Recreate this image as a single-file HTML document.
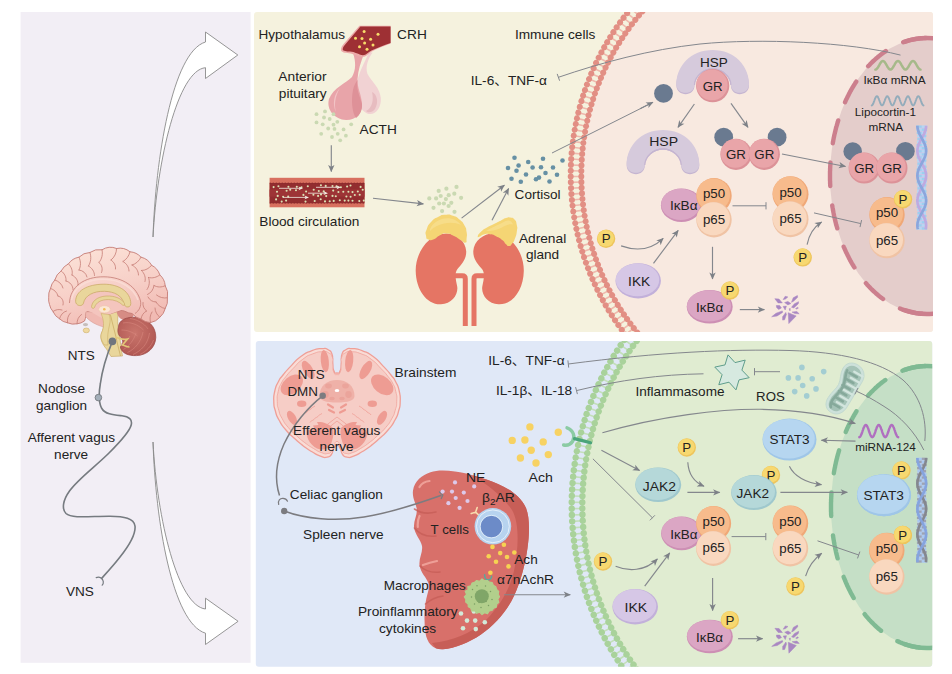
<!DOCTYPE html>
<html lang="en"><head><meta charset="utf-8"><title>HPA axis and cholinergic anti-inflammatory pathway</title>
<style>
html,body{margin:0;padding:0;background:#fff;}
svg{display:block;}
text{font-family:"Liberation Sans","Noto Sans CJK SC",sans-serif;}
</style></head><body>
<svg width="952" height="674" viewBox="0 0 952 674">
<defs>
<marker id="ah" viewBox="0 0 10 10" refX="9.2" refY="5" markerWidth="7.8" markerHeight="7.2" orient="auto" markerUnits="userSpaceOnUse"><path d="M0,0.6 L10,5 L0,9.4 L2.6,5 Z" fill="#7d8187"/></marker>
<clipPath id="cpTop"><rect x="254" y="12" width="679" height="320" rx="3"/></clipPath>
<clipPath id="cpBot"><rect x="255.8" y="341" width="676.4" height="325.8" rx="3"/></clipPath>
<clipPath id="cpLeft"><rect x="20.6" y="12" width="230" height="650.8"/></clipPath>
</defs>
<rect x="20.6" y="12" width="230" height="650.8" fill="#f2eef5"/>
<rect x="254" y="12" width="679" height="320" rx="3" fill="#f5f2de"/>
<rect x="255.8" y="341" width="676.4" height="325.8" rx="3" fill="#e0e8f7"/>
<g clip-path="url(#cpTop)" fill="none">
<circle cx="831" cy="175" r="250.2" fill="#f8e9e0"/>
<circle cx="831" cy="175" r="255" stroke="#efb9ad" stroke-width="10.6" stroke-dasharray="1.6 4.150" stroke-dashoffset="0.8"/>
<circle cx="831" cy="175" r="260.3" stroke="#e28f84" stroke-width="6.0" stroke-linecap="round" stroke-dasharray="0.01 5.860"/>
<circle cx="831" cy="175" r="249.7" stroke="#e28f84" stroke-width="6.0" stroke-linecap="round" stroke-dasharray="0.01 5.620"/>
</g>
<g clip-path="url(#cpBot)" fill="none">
<circle cx="857" cy="505" r="275.2" fill="#e0ecd1"/>
<circle cx="857" cy="505" r="280" stroke="#c3dfba" stroke-width="10.6" stroke-dasharray="1.6 4.700" stroke-dashoffset="0.8"/>
<circle cx="857" cy="505" r="285.3" stroke="#a9d29b" stroke-width="6.4" stroke-linecap="round" stroke-dasharray="0.01 6.409"/>
<circle cx="857" cy="505" r="274.7" stroke="#a9d29b" stroke-width="6.4" stroke-linecap="round" stroke-dasharray="0.01 6.171"/>
</g>
<g clip-path="url(#cpTop)"><ellipse cx="927" cy="176" rx="97" ry="138" fill="#e4cdcb"/><path d="M960.2,46.3 L959.7,46.1 L959.2,45.8 L958.7,45.6 L958.2,45.3 L957.7,45.1 L957.2,44.9 L956.8,44.7 L956.3,44.4 L955.8,44.2 L955.3,44.0 L954.8,43.8 L954.3,43.6 L953.8,43.4 L953.3,43.2 L952.8,43.0 L952.3,42.8 L951.8,42.6 L951.3,42.4 L950.8,42.2 L950.3,42.0 L949.8,41.9 L949.3,41.7 L948.8,41.5 L948.3,41.4 L947.8,41.2 L947.3,41.0 L946.8,40.9 L946.2,40.7 L945.7,40.6 L945.2,40.5 L944.7,40.3 L944.2,40.2 L943.7,40.1 L943.2,39.9 L942.7,39.8 L942.2,39.7 L941.7,39.6 L941.2,39.5 L940.6,39.4 L940.1,39.3 L939.6,39.2 L939.1,39.1 L938.6,39.0 L938.1,38.9 L937.6,38.8 L937.0,38.7 L936.5,38.7 L936.0,38.6 L935.5,38.5 L935.0,38.5 L934.5,38.4 L934.0,38.4 L933.4,38.3 L932.9,38.3 L932.4,38.2 L931.9,38.2 L931.4,38.1 L930.9,38.1 L930.3,38.1 L929.8,38.1 L929.3,38.0 L928.8,38.0 L928.3,38.0 L927.8,38.0 L927.2,38.0 L926.7,38.0 L926.2,38.0 L925.7,38.0 L925.2,38.0 L924.6,38.0 L924.1,38.1 L923.6,38.1 L923.1,38.1 L922.6,38.1 L922.1,38.2 L921.5,38.2 L921.0,38.3 L920.5,38.3 L920.0,38.4 L919.5,38.4 L919.0,38.5 L918.5,38.5 L917.9,38.6 L917.4,38.7 L916.9,38.7 L916.4,38.8 L915.9,38.9 L915.4,39.0 L914.9,39.1 L914.3,39.2 L913.8,39.3 L913.3,39.4 L912.8,39.5 L912.3,39.6 L911.8,39.7 L911.3,39.8 L910.8,39.9 L910.2,40.1 L909.7,40.2 L909.2,40.3 L908.7,40.5 L908.2,40.6 L907.7,40.8 L907.2,40.9 L906.7,41.1 L906.2,41.2 L905.7,41.4 L905.2,41.5 L904.7,41.7 L904.2,41.9 L903.7,42.1 L903.2,42.2 L902.7,42.4 L902.2,42.6 L901.7,42.8 L901.2,43.0 L900.7,43.2 L900.2,43.4 L899.7,43.6 L899.2,43.8 L898.7,44.0 L898.2,44.2 L897.7,44.4 L897.2,44.7 L896.7,44.9 L896.2,45.1 L895.7,45.4 L895.2,45.6 L894.8,45.8 L894.3,46.1 L893.8,46.3 L893.3,46.6 L892.8,46.9 L892.3,47.1 L891.8,47.4 L891.4,47.7 L890.9,47.9 L890.4,48.2 L889.9,48.5 L889.4,48.8 L889.0,49.0 L888.5,49.3 L888.0,49.6 L887.5,49.9 L887.1,50.2 L886.6,50.5 L886.1,50.8 L885.7,51.2 L885.2,51.5 L884.7,51.8 L884.3,52.1 L883.8,52.4 L883.3,52.8 L882.9,53.1 L882.4,53.4 L882.0,53.8 L881.5,54.1 L881.0,54.5 L880.6,54.8 L880.1,55.2 L879.7,55.5 L879.2,55.9 L878.8,56.3 L878.3,56.6 L877.9,57.0 L877.4,57.4 L877.0,57.7 L876.6,58.1 L876.1,58.5 L875.7,58.9 L875.2,59.3 L874.8,59.7 L874.4,60.1 L873.9,60.5 L873.5,60.9 L873.1,61.3 L872.6,61.7 L872.2,62.1 L871.8,62.5 L871.4,63.0 L870.9,63.4 L870.5,63.8 L870.1,64.2 L869.7,64.7 L869.3,65.1 L868.8,65.5 L868.4,66.0 L868.0,66.4 L867.6,66.9 L867.2,67.3 L866.8,67.8 L866.4,68.3 L866.0,68.7 L865.6,69.2 L865.2,69.6 L864.8,70.1 L864.4,70.6 L864.0,71.1 L863.6,71.5 L863.2,72.0 L862.8,72.5 L862.4,73.0 L862.1,73.5 L861.7,74.0 L861.3,74.5 L860.9,75.0 L860.5,75.5 L860.2,76.0 L859.8,76.5 L859.4,77.0 L859.0,77.5 L858.7,78.0 L858.3,78.6 L857.9,79.1 L857.6,79.6 L857.2,80.1 L856.9,80.7 L856.5,81.2 L856.2,81.7 L855.8,82.3 L855.5,82.8 L855.1,83.4 L854.8,83.9 L854.4,84.5 L854.1,85.0 L853.7,85.6 L853.4,86.1 L853.1,86.7 L852.7,87.2 L852.4,87.8 L852.1,88.4 L851.7,88.9 L851.4,89.5 L851.1,90.1 L850.8,90.7 L850.4,91.2 L850.1,91.8 L849.8,92.4 L849.5,93.0 L849.2,93.6 L848.9,94.2 L848.6,94.8 L848.3,95.4 L848.0,96.0 L847.7,96.6 L847.4,97.2 L847.1,97.8 L846.8,98.4 L846.5,99.0 L846.2,99.6 L845.9,100.2 L845.6,100.8 L845.4,101.5 L845.1,102.1 L844.8,102.7 L844.5,103.3 L844.3,104.0 L844.0,104.6 L843.7,105.2 L843.5,105.8 L843.2,106.5 L842.9,107.1 L842.7,107.8 L842.4,108.4 L842.2,109.0 L841.9,109.7 L841.7,110.3 L841.4,111.0 L841.2,111.6 L841.0,112.3 L840.7,112.9 L840.5,113.6 L840.3,114.2 L840.0,114.9 L839.8,115.6 L839.6,116.2 L839.3,116.9 L839.1,117.6 L838.9,118.2 L838.7,118.9 L838.5,119.6 L838.3,120.2 L838.1,120.9 L837.9,121.6 L837.7,122.3 L837.5,122.9 L837.3,123.6 L837.1,124.3 L836.9,125.0 L836.7,125.7 L836.5,126.4 L836.3,127.0 L836.1,127.7 L835.9,128.4 L835.8,129.1 L835.6,129.8 L835.4,130.5 L835.3,131.2 L835.1,131.9 L834.9,132.6 L834.8,133.3 L834.6,134.0 L834.4,134.7 L834.3,135.4 L834.1,136.1 L834.0,136.8 L833.8,137.5 L833.7,138.2 L833.6,138.9 L833.4,139.6 L833.3,140.3 L833.2,141.1 L833.0,141.8 L832.9,142.5 L832.8,143.2 L832.7,143.9 L832.5,144.6 L832.4,145.3 L832.3,146.1 L832.2,146.8 L832.1,147.5 L832.0,148.2 L831.9,148.9 L831.8,149.7 L831.7,150.4 L831.6,151.1 L831.5,151.8 L831.4,152.6 L831.3,153.3 L831.2,154.0 L831.2,154.7 L831.1,155.5 L831.0,156.2 L830.9,156.9 L830.9,157.7 L830.8,158.4 L830.7,159.1 L830.7,159.8 L830.6,160.6 L830.6,161.3 L830.5,162.0 L830.4,162.8 L830.4,163.5 L830.4,164.2 L830.3,165.0 L830.3,165.7 L830.2,166.4 L830.2,167.2 L830.2,167.9 L830.1,168.6 L830.1,169.4 L830.1,170.1 L830.1,170.8 L830.0,171.6 L830.0,172.3 L830.0,173.1 L830.0,173.8 L830.0,174.5 L830.0,175.3 L830.0,176.0 L830.0,176.7 L830.0,177.5 L830.0,178.2 L830.0,178.9 L830.0,179.7 L830.0,180.4 L830.1,181.2 L830.1,181.9 L830.1,182.6 L830.1,183.4 L830.2,184.1 L830.2,184.8 L830.2,185.6 L830.3,186.3 L830.3,187.0 L830.4,187.8 L830.4,188.5 L830.4,189.2 L830.5,190.0 L830.6,190.7 L830.6,191.4 L830.7,192.2 L830.7,192.9 L830.8,193.6 L830.9,194.3 L830.9,195.1 L831.0,195.8 L831.1,196.5 L831.2,197.3 L831.2,198.0 L831.3,198.7 L831.4,199.4 L831.5,200.2 L831.6,200.9 L831.7,201.6 L831.8,202.3 L831.9,203.1 L832.0,203.8 L832.1,204.5 L832.2,205.2 L832.3,205.9 L832.4,206.7 L832.5,207.4 L832.7,208.1 L832.8,208.8 L832.9,209.5 L833.0,210.2 L833.2,210.9 L833.3,211.7 L833.4,212.4 L833.6,213.1 L833.7,213.8 L833.8,214.5 L834.0,215.2 L834.1,215.9 L834.3,216.6 L834.4,217.3 L834.6,218.0 L834.8,218.7 L834.9,219.4 L835.1,220.1 L835.3,220.8 L835.4,221.5 L835.6,222.2 L835.8,222.9 L835.9,223.6 L836.1,224.3 L836.3,225.0 L836.5,225.6 L836.7,226.3 L836.9,227.0 L837.1,227.7 L837.3,228.4 L837.5,229.1 L837.7,229.7 L837.9,230.4 L838.1,231.1 L838.3,231.8 L838.5,232.4 L838.7,233.1 L838.9,233.8 L839.1,234.4 L839.3,235.1 L839.6,235.8 L839.8,236.4 L840.0,237.1 L840.3,237.8 L840.5,238.4 L840.7,239.1 L841.0,239.7 L841.2,240.4 L841.4,241.0 L841.7,241.7 L841.9,242.3 L842.2,243.0 L842.4,243.6 L842.7,244.2 L842.9,244.9 L843.2,245.5 L843.5,246.2 L843.7,246.8 L844.0,247.4 L844.3,248.0 L844.5,248.7 L844.8,249.3 L845.1,249.9 L845.4,250.5 L845.6,251.2 L845.9,251.8 L846.2,252.4 L846.5,253.0 L846.8,253.6 L847.1,254.2 L847.4,254.8 L847.7,255.4 L848.0,256.0 L848.3,256.6 L848.6,257.2 L848.9,257.8 L849.2,258.4 L849.5,259.0 L849.8,259.6 L850.1,260.2 L850.4,260.8 L850.8,261.3 L851.1,261.9 L851.4,262.5 L851.7,263.1 L852.1,263.6 L852.4,264.2 L852.7,264.8 L853.1,265.3 L853.4,265.9 L853.7,266.4 L854.1,267.0 L854.4,267.5 L854.8,268.1 L855.1,268.6 L855.5,269.2 L855.8,269.7 L856.2,270.3 L856.5,270.8 L856.9,271.3 L857.2,271.9 L857.6,272.4 L857.9,272.9 L858.3,273.4 L858.7,274.0 L859.0,274.5 L859.4,275.0 L859.8,275.5 L860.2,276.0 L860.5,276.5 L860.9,277.0 L861.3,277.5 L861.7,278.0 L862.1,278.5 L862.4,279.0 L862.8,279.5 L863.2,280.0 L863.6,280.5 L864.0,280.9 L864.4,281.4 L864.8,281.9 L865.2,282.4 L865.6,282.8 L866.0,283.3 L866.4,283.7 L866.8,284.2 L867.2,284.7 L867.6,285.1 L868.0,285.6 L868.4,286.0 L868.8,286.5 L869.3,286.9 L869.7,287.3 L870.1,287.8 L870.5,288.2 L870.9,288.6 L871.4,289.0 L871.8,289.5 L872.2,289.9 L872.6,290.3 L873.1,290.7 L873.5,291.1 L873.9,291.5 L874.4,291.9 L874.8,292.3 L875.2,292.7 L875.7,293.1 L876.1,293.5 L876.6,293.9 L877.0,294.3 L877.4,294.6 L877.9,295.0 L878.3,295.4 L878.8,295.7 L879.2,296.1 L879.7,296.5 L880.1,296.8 L880.6,297.2 L881.0,297.5 L881.5,297.9 L882.0,298.2 L882.4,298.6 L882.9,298.9 L883.3,299.2 L883.8,299.6 L884.3,299.9 L884.7,300.2 L885.2,300.5 L885.7,300.8 L886.1,301.2 L886.6,301.5 L887.1,301.8 L887.5,302.1 L888.0,302.4 L888.5,302.7 L889.0,303.0 L889.4,303.2 L889.9,303.5 L890.4,303.8 L890.9,304.1 L891.4,304.3 L891.8,304.6 L892.3,304.9 L892.8,305.1 L893.3,305.4 L893.8,305.7 L894.3,305.9 L894.8,306.2 L895.2,306.4 L895.7,306.6 L896.2,306.9 L896.7,307.1 L897.2,307.3 L897.7,307.6 L898.2,307.8 L898.7,308.0 L899.2,308.2 L899.7,308.4 L900.2,308.6 L900.7,308.8 L901.2,309.0 L901.7,309.2 L902.2,309.4 L902.7,309.6 L903.2,309.8 L903.7,309.9 L904.2,310.1 L904.7,310.3 L905.2,310.5 L905.7,310.6 L906.2,310.8 L906.7,310.9 L907.2,311.1 L907.7,311.2 L908.2,311.4 L908.7,311.5 L909.2,311.7 L909.7,311.8 L910.2,311.9 L910.8,312.1 L911.3,312.2 L911.8,312.3 L912.3,312.4 L912.8,312.5 L913.3,312.6 L913.8,312.7 L914.3,312.8 L914.9,312.9 L915.4,313.0 L915.9,313.1 L916.4,313.2 L916.9,313.3 L917.4,313.3 L917.9,313.4 L918.5,313.5 L919.0,313.5 L919.5,313.6 L920.0,313.6 L920.5,313.7 L921.0,313.7 L921.5,313.8 L922.1,313.8 L922.6,313.9 L923.1,313.9 L923.6,313.9 L924.1,313.9 L924.6,314.0 L925.2,314.0 L925.7,314.0 L926.2,314.0 L926.7,314.0 L927.2,314.0 L927.8,314.0 L928.3,314.0 L928.8,314.0 L929.3,314.0 L929.8,313.9 L930.3,313.9 L930.9,313.9 L931.4,313.9 L931.9,313.8 L932.4,313.8 L932.9,313.7 L933.4,313.7 L934.0,313.6 L934.5,313.6 L935.0,313.5 L935.5,313.5 L936.0,313.4 L936.5,313.3 L937.0,313.3 L937.6,313.2 L938.1,313.1 L938.6,313.0 L939.1,312.9 L939.6,312.8 L940.1,312.7 L940.6,312.6 L941.2,312.5 L941.7,312.4 L942.2,312.3 L942.7,312.2 L943.2,312.1 L943.7,311.9 L944.2,311.8 L944.7,311.7 L945.2,311.5 L945.7,311.4 L946.2,311.3 L946.8,311.1 L947.3,311.0 L947.8,310.8 L948.3,310.6 L948.8,310.5 L949.3,310.3 L949.8,310.1 L950.3,310.0 L950.8,309.8 L951.3,309.6 L951.8,309.4 L952.3,309.2 L952.8,309.0 L953.3,308.8 L953.8,308.6 L954.3,308.4 L954.8,308.2 L955.3,308.0 L955.8,307.8 L956.3,307.6 L956.8,307.3 L957.2,307.1 L957.7,306.9 L958.2,306.7 L958.7,306.4 L959.2,306.2 L959.7,305.9 L960.2,305.7" fill="none" stroke="#cc7f8d" stroke-width="4.4" stroke-linecap="round" stroke-dasharray="23.5 19.5" stroke-dashoffset="7.49"/><path d="M904.4,41.8 A97,138 0 0 1 937.1,38.8" fill="none" stroke="#cc7f8d" stroke-width="4.4" stroke-linecap="round"/><path d="M904.4,310.2 A97,138 0 0 0 937.1,313.2" fill="none" stroke="#cc7f8d" stroke-width="4.4" stroke-linecap="round"/></g>
<g clip-path="url(#cpBot)"><ellipse cx="927" cy="507" rx="96" ry="141" fill="#c5dfc6"/><path d="M959.8,374.5 L959.4,374.2 L958.9,374.0 L958.4,373.7 L957.9,373.5 L957.4,373.3 L956.9,373.0 L956.4,372.8 L956.0,372.6 L955.5,372.3 L955.0,372.1 L954.5,371.9 L954.0,371.7 L953.5,371.5 L953.0,371.3 L952.5,371.1 L952.0,370.9 L951.5,370.7 L951.0,370.5 L950.5,370.3 L950.0,370.1 L949.5,369.9 L949.0,369.8 L948.5,369.6 L948.1,369.4 L947.6,369.3 L947.1,369.1 L946.5,369.0 L946.0,368.8 L945.5,368.7 L945.0,368.5 L944.5,368.4 L944.0,368.2 L943.5,368.1 L943.0,368.0 L942.5,367.9 L942.0,367.7 L941.5,367.6 L941.0,367.5 L940.5,367.4 L940.0,367.3 L939.5,367.2 L939.0,367.1 L938.5,367.0 L938.0,366.9 L937.5,366.8 L936.9,366.8 L936.4,366.7 L935.9,366.6 L935.4,366.5 L934.9,366.5 L934.4,366.4 L933.9,366.4 L933.4,366.3 L932.9,366.3 L932.3,366.2 L931.8,366.2 L931.3,366.1 L930.8,366.1 L930.3,366.1 L929.8,366.1 L929.3,366.0 L928.8,366.0 L928.3,366.0 L927.7,366.0 L927.2,366.0 L926.7,366.0 L926.2,366.0 L925.7,366.0 L925.2,366.0 L924.7,366.0 L924.2,366.1 L923.6,366.1 L923.1,366.1 L922.6,366.1 L922.1,366.2 L921.6,366.2 L921.1,366.3 L920.6,366.3 L920.1,366.4 L919.6,366.4 L919.1,366.5 L918.5,366.5 L918.0,366.6 L917.5,366.7 L917.0,366.8 L916.5,366.8 L916.0,366.9 L915.5,367.0 L915.0,367.1 L914.5,367.2 L914.0,367.3 L913.5,367.4 L912.9,367.5 L912.4,367.6 L911.9,367.7 L911.4,367.9 L910.9,368.0 L910.4,368.1 L909.9,368.3 L909.4,368.4 L908.9,368.5 L908.4,368.7 L907.9,368.8 L907.4,369.0 L906.9,369.1 L906.4,369.3 L905.9,369.4 L905.4,369.6 L904.9,369.8 L904.4,370.0 L903.9,370.1 L903.4,370.3 L902.9,370.5 L902.4,370.7 L901.9,370.9 L901.4,371.1 L900.9,371.3 L900.4,371.5 L900.0,371.7 L899.5,371.9 L899.0,372.1 L898.5,372.4 L898.0,372.6 L897.5,372.8 L897.0,373.0 L896.5,373.3 L896.1,373.5 L895.6,373.8 L895.1,374.0 L894.6,374.3 L894.1,374.5 L893.6,374.8 L893.2,375.0 L892.7,375.3 L892.2,375.6 L891.7,375.9 L891.3,376.1 L890.8,376.4 L890.3,376.7 L889.8,377.0 L889.4,377.3 L888.9,377.6 L888.4,377.9 L888.0,378.2 L887.5,378.5 L887.0,378.8 L886.6,379.1 L886.1,379.4 L885.6,379.8 L885.2,380.1 L884.7,380.4 L884.2,380.8 L883.8,381.1 L883.3,381.4 L882.9,381.8 L882.4,382.1 L882.0,382.5 L881.5,382.8 L881.1,383.2 L880.6,383.5 L880.2,383.9 L879.7,384.3 L879.3,384.7 L878.8,385.0 L878.4,385.4 L878.0,385.8 L877.5,386.2 L877.1,386.6 L876.6,387.0 L876.2,387.4 L875.8,387.8 L875.3,388.2 L874.9,388.6 L874.5,389.0 L874.1,389.4 L873.6,389.8 L873.2,390.2 L872.8,390.6 L872.4,391.1 L871.9,391.5 L871.5,391.9 L871.1,392.4 L870.7,392.8 L870.3,393.3 L869.9,393.7 L869.4,394.1 L869.0,394.6 L868.6,395.1 L868.2,395.5 L867.8,396.0 L867.4,396.4 L867.0,396.9 L866.6,397.4 L866.2,397.9 L865.8,398.3 L865.4,398.8 L865.0,399.3 L864.7,399.8 L864.3,400.3 L863.9,400.8 L863.5,401.3 L863.1,401.8 L862.7,402.3 L862.3,402.8 L862.0,403.3 L861.6,403.8 L861.2,404.3 L860.9,404.8 L860.5,405.3 L860.1,405.9 L859.7,406.4 L859.4,406.9 L859.0,407.4 L858.7,408.0 L858.3,408.5 L857.9,409.1 L857.6,409.6 L857.2,410.1 L856.9,410.7 L856.5,411.2 L856.2,411.8 L855.8,412.3 L855.5,412.9 L855.2,413.5 L854.8,414.0 L854.5,414.6 L854.2,415.2 L853.8,415.7 L853.5,416.3 L853.2,416.9 L852.8,417.5 L852.5,418.1 L852.2,418.6 L851.9,419.2 L851.6,419.8 L851.2,420.4 L850.9,421.0 L850.6,421.6 L850.3,422.2 L850.0,422.8 L849.7,423.4 L849.4,424.0 L849.1,424.6 L848.8,425.2 L848.5,425.8 L848.2,426.5 L847.9,427.1 L847.6,427.7 L847.3,428.3 L847.0,428.9 L846.8,429.6 L846.5,430.2 L846.2,430.8 L845.9,431.5 L845.7,432.1 L845.4,432.7 L845.1,433.4 L844.9,434.0 L844.6,434.7 L844.3,435.3 L844.1,436.0 L843.8,436.6 L843.6,437.3 L843.3,437.9 L843.1,438.6 L842.8,439.2 L842.6,439.9 L842.3,440.6 L842.1,441.2 L841.8,441.9 L841.6,442.6 L841.4,443.2 L841.1,443.9 L840.9,444.6 L840.7,445.3 L840.5,445.9 L840.3,446.6 L840.0,447.3 L839.8,448.0 L839.6,448.7 L839.4,449.3 L839.2,450.0 L839.0,450.7 L838.8,451.4 L838.6,452.1 L838.4,452.8 L838.2,453.5 L838.0,454.2 L837.8,454.9 L837.6,455.6 L837.4,456.3 L837.2,457.0 L837.1,457.7 L836.9,458.4 L836.7,459.1 L836.5,459.8 L836.4,460.5 L836.2,461.2 L836.0,461.9 L835.9,462.6 L835.7,463.4 L835.6,464.1 L835.4,464.8 L835.2,465.5 L835.1,466.2 L835.0,467.0 L834.8,467.7 L834.7,468.4 L834.5,469.1 L834.4,469.8 L834.3,470.6 L834.1,471.3 L834.0,472.0 L833.9,472.8 L833.8,473.5 L833.6,474.2 L833.5,474.9 L833.4,475.7 L833.3,476.4 L833.2,477.1 L833.1,477.9 L833.0,478.6 L832.9,479.4 L832.8,480.1 L832.7,480.8 L832.6,481.6 L832.5,482.3 L832.4,483.1 L832.3,483.8 L832.2,484.5 L832.1,485.3 L832.1,486.0 L832.0,486.8 L831.9,487.5 L831.9,488.3 L831.8,489.0 L831.7,489.7 L831.7,490.5 L831.6,491.2 L831.5,492.0 L831.5,492.7 L831.4,493.5 L831.4,494.2 L831.3,495.0 L831.3,495.7 L831.3,496.5 L831.2,497.2 L831.2,498.0 L831.2,498.7 L831.1,499.5 L831.1,500.2 L831.1,501.0 L831.1,501.7 L831.0,502.5 L831.0,503.2 L831.0,504.0 L831.0,504.7 L831.0,505.5 L831.0,506.2 L831.0,507.0 L831.0,507.8 L831.0,508.5 L831.0,509.3 L831.0,510.0 L831.0,510.8 L831.0,511.5 L831.1,512.3 L831.1,513.0 L831.1,513.8 L831.1,514.5 L831.2,515.3 L831.2,516.0 L831.2,516.8 L831.3,517.5 L831.3,518.3 L831.3,519.0 L831.4,519.8 L831.4,520.5 L831.5,521.3 L831.5,522.0 L831.6,522.8 L831.7,523.5 L831.7,524.3 L831.8,525.0 L831.9,525.7 L831.9,526.5 L832.0,527.2 L832.1,528.0 L832.1,528.7 L832.2,529.5 L832.3,530.2 L832.4,530.9 L832.5,531.7 L832.6,532.4 L832.7,533.2 L832.8,533.9 L832.9,534.6 L833.0,535.4 L833.1,536.1 L833.2,536.9 L833.3,537.6 L833.4,538.3 L833.5,539.1 L833.6,539.8 L833.8,540.5 L833.9,541.2 L834.0,542.0 L834.1,542.7 L834.3,543.4 L834.4,544.2 L834.5,544.9 L834.7,545.6 L834.8,546.3 L835.0,547.0 L835.1,547.8 L835.2,548.5 L835.4,549.2 L835.6,549.9 L835.7,550.6 L835.9,551.4 L836.0,552.1 L836.2,552.8 L836.4,553.5 L836.5,554.2 L836.7,554.9 L836.9,555.6 L837.1,556.3 L837.2,557.0 L837.4,557.7 L837.6,558.4 L837.8,559.1 L838.0,559.8 L838.2,560.5 L838.4,561.2 L838.6,561.9 L838.8,562.6 L839.0,563.3 L839.2,564.0 L839.4,564.7 L839.6,565.3 L839.8,566.0 L840.0,566.7 L840.3,567.4 L840.5,568.1 L840.7,568.7 L840.9,569.4 L841.1,570.1 L841.4,570.8 L841.6,571.4 L841.8,572.1 L842.1,572.8 L842.3,573.4 L842.6,574.1 L842.8,574.8 L843.1,575.4 L843.3,576.1 L843.6,576.7 L843.8,577.4 L844.1,578.0 L844.3,578.7 L844.6,579.3 L844.9,580.0 L845.1,580.6 L845.4,581.3 L845.7,581.9 L845.9,582.5 L846.2,583.2 L846.5,583.8 L846.8,584.4 L847.0,585.1 L847.3,585.7 L847.6,586.3 L847.9,586.9 L848.2,587.5 L848.5,588.2 L848.8,588.8 L849.1,589.4 L849.4,590.0 L849.7,590.6 L850.0,591.2 L850.3,591.8 L850.6,592.4 L850.9,593.0 L851.2,593.6 L851.6,594.2 L851.9,594.8 L852.2,595.4 L852.5,595.9 L852.8,596.5 L853.2,597.1 L853.5,597.7 L853.8,598.3 L854.2,598.8 L854.5,599.4 L854.8,600.0 L855.2,600.5 L855.5,601.1 L855.8,601.7 L856.2,602.2 L856.5,602.8 L856.9,603.3 L857.2,603.9 L857.6,604.4 L857.9,604.9 L858.3,605.5 L858.7,606.0 L859.0,606.6 L859.4,607.1 L859.7,607.6 L860.1,608.1 L860.5,608.7 L860.9,609.2 L861.2,609.7 L861.6,610.2 L862.0,610.7 L862.3,611.2 L862.7,611.7 L863.1,612.2 L863.5,612.7 L863.9,613.2 L864.3,613.7 L864.7,614.2 L865.0,614.7 L865.4,615.2 L865.8,615.7 L866.2,616.1 L866.6,616.6 L867.0,617.1 L867.4,617.6 L867.8,618.0 L868.2,618.5 L868.6,618.9 L869.0,619.4 L869.4,619.9 L869.9,620.3 L870.3,620.7 L870.7,621.2 L871.1,621.6 L871.5,622.1 L871.9,622.5 L872.4,622.9 L872.8,623.4 L873.2,623.8 L873.6,624.2 L874.1,624.6 L874.5,625.0 L874.9,625.4 L875.3,625.8 L875.8,626.2 L876.2,626.6 L876.6,627.0 L877.1,627.4 L877.5,627.8 L878.0,628.2 L878.4,628.6 L878.8,629.0 L879.3,629.3 L879.7,629.7 L880.2,630.1 L880.6,630.5 L881.1,630.8 L881.5,631.2 L882.0,631.5 L882.4,631.9 L882.9,632.2 L883.3,632.6 L883.8,632.9 L884.2,633.2 L884.7,633.6 L885.2,633.9 L885.6,634.2 L886.1,634.6 L886.6,634.9 L887.0,635.2 L887.5,635.5 L888.0,635.8 L888.4,636.1 L888.9,636.4 L889.4,636.7 L889.8,637.0 L890.3,637.3 L890.8,637.6 L891.3,637.9 L891.7,638.1 L892.2,638.4 L892.7,638.7 L893.2,639.0 L893.6,639.2 L894.1,639.5 L894.6,639.7 L895.1,640.0 L895.6,640.2 L896.1,640.5 L896.5,640.7 L897.0,641.0 L897.5,641.2 L898.0,641.4 L898.5,641.6 L899.0,641.9 L899.5,642.1 L900.0,642.3 L900.4,642.5 L900.9,642.7 L901.4,642.9 L901.9,643.1 L902.4,643.3 L902.9,643.5 L903.4,643.7 L903.9,643.9 L904.4,644.0 L904.9,644.2 L905.4,644.4 L905.9,644.6 L906.4,644.7 L906.9,644.9 L907.4,645.0 L907.9,645.2 L908.4,645.3 L908.9,645.5 L909.4,645.6 L909.9,645.7 L910.4,645.9 L910.9,646.0 L911.4,646.1 L911.9,646.3 L912.4,646.4 L912.9,646.5 L913.5,646.6 L914.0,646.7 L914.5,646.8 L915.0,646.9 L915.5,647.0 L916.0,647.1 L916.5,647.2 L917.0,647.2 L917.5,647.3 L918.0,647.4 L918.5,647.5 L919.1,647.5 L919.6,647.6 L920.1,647.6 L920.6,647.7 L921.1,647.7 L921.6,647.8 L922.1,647.8 L922.6,647.9 L923.1,647.9 L923.6,647.9 L924.2,647.9 L924.7,648.0 L925.2,648.0 L925.7,648.0 L926.2,648.0 L926.7,648.0 L927.2,648.0 L927.7,648.0 L928.3,648.0 L928.8,648.0 L929.3,648.0 L929.8,647.9 L930.3,647.9 L930.8,647.9 L931.3,647.9 L931.8,647.8 L932.3,647.8 L932.9,647.7 L933.4,647.7 L933.9,647.6 L934.4,647.6 L934.9,647.5 L935.4,647.5 L935.9,647.4 L936.4,647.3 L936.9,647.2 L937.5,647.2 L938.0,647.1 L938.5,647.0 L939.0,646.9 L939.5,646.8 L940.0,646.7 L940.5,646.6 L941.0,646.5 L941.5,646.4 L942.0,646.3 L942.5,646.1 L943.0,646.0 L943.5,645.9 L944.0,645.8 L944.5,645.6 L945.0,645.5 L945.5,645.3 L946.0,645.2 L946.5,645.0 L947.1,644.9 L947.6,644.7 L948.1,644.6 L948.5,644.4 L949.0,644.2 L949.5,644.1 L950.0,643.9 L950.5,643.7 L951.0,643.5 L951.5,643.3 L952.0,643.1 L952.5,642.9 L953.0,642.7 L953.5,642.5 L954.0,642.3 L954.5,642.1 L955.0,641.9 L955.5,641.7 L956.0,641.4 L956.4,641.2 L956.9,641.0 L957.4,640.7 L957.9,640.5 L958.4,640.3 L958.9,640.0 L959.4,639.8 L959.8,639.5" fill="none" stroke="#7fba93" stroke-width="4.4" stroke-linecap="round" stroke-dasharray="23.5 19.5" stroke-dashoffset="6.93"/><path d="M904.6,369.9 A96,141 0 0 1 937.0,366.8" fill="none" stroke="#7fba93" stroke-width="4.4" stroke-linecap="round"/><path d="M904.6,644.1 A96,141 0 0 0 937.0,647.2" fill="none" stroke="#7fba93" stroke-width="4.4" stroke-linecap="round"/></g>
<path d="M153,237 C155.5,160 172,52 205.5,42 L205.5,32 L237.8,55 L205.5,78.5 L205.5,67.7 C178,70 157,160 153,237 Z" fill="#fff" stroke="#8a8a8a" stroke-width="0.9" stroke-linejoin="miter"/>
<path d="M153,442 C155.5,520 172,623 205.5,633.2 L205.5,644.5 L238.1,621.3 L205.5,598.2 L205.5,609 C178,606 157,520 153,442 Z" fill="#fff" stroke="#8a8a8a" stroke-width="0.9" stroke-linejoin="miter"/>
<defs><linearGradient id="gBrain" x1="0.2" y1="0" x2="0.6" y2="1"><stop offset="0" stop-color="#fce3d8"/><stop offset="0.55" stop-color="#f7d0c8"/><stop offset="1" stop-color="#f1bab3"/></linearGradient><radialGradient id="gCbl" cx="0.45" cy="0.4" r="0.7"><stop offset="0" stop-color="#c9756c"/><stop offset="1" stop-color="#ad534f"/></radialGradient></defs>
<g id="brain">
<path d="M101.5,312 C104.5,320 104.5,327 101.5,333 C99.5,338 102,344 106.500,349 L111,356.500 L122.500,356 C121,349 120.500,341 119,333 C117.500,325 117,318 119,311 Z" fill="#e9d69b" stroke="#c6a65e" stroke-width="0.6"/>
<path d="M116,309 C120,305 128,304 133,308 C136,312 134,318 128,320 C122,321 117,318 116,309 Z" fill="#d68c84"/>
<path d="M118.5,327 C118.5,320.5 126,316.5 136,317.3 C147,318.2 156.2,326 155.8,337.5 C155.4,348 147,355.2 136.5,355.6 C128,356 121.5,353 120.3,347 C123.8,343.5 123.5,338.5 119.5,336 C117.500,333 117.500,330 118.5,327 Z" fill="url(#gCbl)" stroke="#9a4643" stroke-width="0.7"/>
<path d="M123.500,349.500 C129,346 134,340 136,333 M127.500,352.500 C135,349 141,342 143,332 M133,354.500 C141,351 148,344 149.500,333 M121.500,330 C127,330 133,332 137.500,336 M123,323 C130,321.500 138,324.500 143.500,330 M140,354.500 C146,351.500 151.500,346 153.500,340 M130,318.500 C137,319.500 144,323 148,329 M121,344 C125,342 128,339.500 130,336" fill="none" stroke="#d98a80" stroke-width="0.6" opacity="0.9"/>
<path d="M48.7,297.8 A16,16 0 0 1 50.5,288.4 A16,16 0 0 1 54.8,280 A16,16 0 0 1 61.2,270.9 A16,16 0 0 1 68.5,263.8 A16,16 0 0 1 79,257.2 A16,16 0 0 1 89.9,252.5 A16,16 0 0 1 102,249.8 A16,16 0 0 1 116.6,248.5 A16,16 0 0 1 130,251.8 A16,16 0 0 1 141,257.2 A16,16 0 0 1 151.6,265.3 A16,16 0 0 1 159.8,274.9 A16,16 0 0 1 165.2,285.7 A16,16 0 0 1 167.4,297.8 A16,16 0 0 1 165.2,308.5 A16,16 0 0 1 159.8,317.3 A16,16 0 0 1 150.5,322.6 A16,16 0 0 1 141,319 A16,16 0 0 1 132,313.5 A16,16 0 0 1 125,311.3 C122,310 119,310.500 117,311.5 C114,312.500 111,313.500 109,314.5 L104,318.5 C102,318 100,317 98,316 C96,314.500 94,313 92,312.5 C90,312 88.500,311.500 87,311.5 C86,313 85.800,314.500 85.800,316 A15,15 0 0 1 84.5,321 A15,15 0 0 1 77,323.8 A15,15 0 0 1 67.5,322.8 A15,15 0 0 1 59.5,318.8 A15,15 0 0 1 53,311.5 A15,15 0 0 1 49.5,304.5 A15,15 0 0 1 48.7,297.8 Z" fill="url(#gBrain)" stroke="#c57c75" stroke-width="0.9" stroke-linejoin="round"/>
<path d="M85.800,312 C92,311 100,314 105,318.500 L104,327 C97,325.500 89,321 85.600,316.500 Z" fill="#f0b9b2" stroke="#d3938b" stroke-width="0.5"/>
<path d="M82,303 C84,294 93,289.500 104,289.800 C116,290 124,296 125,304 C125,308 121,310.500 117,311.5 L109,314.5 L104,318.5 C100,317.500 96,314.500 92,312.5 C87,310.500 83,308 82,303 Z" fill="#f4c5be"/>
<path d="M50.5,288.4 C54,289.500 57,292 58,296 M54.8,280 C58.500,281 62,284 63,288 M61.2,270.9 C64.500,273.500 66.500,277 66,281 M68.5,263.8 C71.500,267 73,271 72,275 M79,257.2 C81,261.500 81,266 79,270 M89.9,252.5 C91.500,257 91,262 88.500,266 M102,249.8 C103,254 102,259 99,262.500 M116.6,248.5 C116.500,253 114.500,257.500 111,260 M130,251.8 C129,256 126.500,259.500 123,261.500 M141,257.2 C139,261 136,264 132,265 M151.6,265.3 C149,268.500 145.500,270.500 141.500,270.500 M159.8,274.9 C156.500,277.500 152.500,278.500 148.500,277.500 M165.2,285.7 C161.500,287.500 157.500,287.500 154,285.500 M167.4,297.8 C163.500,298.500 159.500,297.500 156.500,295 M165.2,308.5 C161.500,308 158,305.500 156,302 M159.8,317.3 C157,315 155,311.500 155,308 M150.5,322.6 C149.500,319 150,315 152,312 M141,319 C141.500,315.500 143.500,312.500 146.500,311 M77,323.8 C77,320 78.500,316.500 81.500,314.500 M67.5,322.8 C67,319 68,315.500 70.500,313 M59.5,318.8 C60.500,315 63,312 66.500,311 M53,311.500 C55.500,309.500 59,309 62,310 M58,296 C62,297 64,301 63,305 M66,281 C70,282 73,285.500 73,289.500 M79,270 C83,270.500 86,273 87,277 M99,262.500 C102,265 103,269 101.500,272.500 M111,260 C114,262 116,265.500 115.500,269 M123,261.500 C126.500,263.500 129,267 129,271 M132,265 C136,267 138.500,271 138.500,275 M141.500,270.500 C144.500,273.500 146,277.500 145,281.500 M148.500,277.500 C150,281.500 149.500,286 147,289.500 M154,285.500 C153.500,289.500 151,293 147.500,294.500 M156,302 C152.500,302 149.500,300 148,297 M146.500,311 C144,309 142.500,306 143,302.500 M88.500,266 C92,268 94.500,271.500 94.500,275.500 M72,275 C76,277 78.500,281 78,285" fill="none" stroke="#c57c75" stroke-width="0.8" stroke-linecap="round"/>
<path d="M69.5,303 C70,287 84,276.500 104,276.8 C123,277 137,287 140.500,301 C141.500,306 139,311 135,313.500" fill="none" stroke="#c57c75" stroke-width="0.8"/>
<path d="M71.500,300 C73,288 86,279 104,279.2 C121,279.500 134,288 138,300" fill="none" stroke="#fbe0d8" stroke-width="1.6" opacity="0.7"/>
<path d="M75.6,301.5 C75.6,291 87,284.2 104,284.2 C119.5,284.2 130.5,292 130.8,303.5 C130.8,306.500 128.500,307.500 126.500,306.800 C124.500,306 124,304.500 123.5,302.5 C122,296 114.500,291.500 104.5,291.3 C93.500,291 85,295.500 83.5,303 C82.800,306.800 76,306.500 75.6,301.5 Z" fill="#e9d69b" stroke="#c6a65e" stroke-width="0.7"/>
<path d="M91.500,306.500 C92.500,299.500 100,295.500 109.500,296 C117,296.500 122.500,299.500 124.500,303.500 C125,305 123.500,305.800 122.500,305 C119.500,301.800 114.500,299.800 108.500,299.600 C101,299.500 96,302.500 94.500,307.500 C93.800,309 91.300,308.300 91.500,306.500 Z" fill="#e9d69b" stroke="#c6a65e" stroke-width="0.6"/>
<ellipse cx="104.5" cy="309.3" rx="5.8" ry="3.6" fill="#fbe6d4" stroke="#ecc3a4" stroke-width="0.5"/><circle cx="104.3" cy="309.3" r="1.3" fill="#f2bd55"/>
<ellipse cx="85.5" cy="324.6" rx="2.6" ry="1.6" fill="#c6bebb"/><ellipse cx="86.3" cy="330.4" rx="3.1" ry="2.4" fill="#f0d9a0" stroke="#c6a65e" stroke-width="0.5"/>
<path d="M101,313.500 C104,320 104.500,327 101.5,333 C100,337 101.500,341 104.500,345 L108,345 C107,338 108,331 109.500,325 C110.500,321 110.500,317 109,314.500 Z" fill="#e9d69b" stroke="#c6a65e" stroke-width="0.5"/>
<path d="M110.500,315 C112.500,324 115.500,334 117.500,344 L120.500,356" fill="none" stroke="#c6a65e" stroke-width="0.7"/>
<path d="M115.500,337 C119.500,339 123.500,340 127.500,339 L122.500,345 C125.500,346 127.500,347 129.500,347" fill="none" stroke="#e2c878" stroke-width="1.6"/>
</g>
<path d="M112.4,341.4 C108,352 102.5,368 100.3,384 C98.6,394 98.6,402 101.5,408 C105,414.5 114,415 122,415.8 C129,416.5 132.6,419.5 131.2,425 C129.5,432 118,444 109,453 C96,466 78,479 69.5,491 C63,500 61.5,509 66,513.5 C72,519 92,516 110,516.2 C124,516.4 134,518 135,526 C136,535 128,547 120,557 C113,566 106,573.5 101.5,578.5" fill="none" stroke="#767b80" stroke-width="1.6" stroke-linecap="round"/>
<circle cx="112.4" cy="341.4" r="3.8" fill="#70757e"/>
<circle cx="98.4" cy="397.6" r="3.3" fill="#a3aeb9" stroke="#767b80" stroke-width="0.9"/>
<path d="M96.2,577.6 C99.5,576.2 102.8,578.2 103.3,581.6 C103.5,583 103,584.3 102.2,585.2" fill="none" stroke="#767b80" stroke-width="1.2" stroke-linecap="round"/>
<text x="67.8" y="360.4" font-size="13.3" text-anchor="start" fill="#222" textLength="27.0" lengthAdjust="spacingAndGlyphs">NTS</text>
<text x="38.1" y="393.0" font-size="13.3" text-anchor="start" fill="#222" textLength="46.9" lengthAdjust="spacingAndGlyphs">Nodose</text>
<text x="36.0" y="409.6" font-size="13.3" text-anchor="start" fill="#222" textLength="51.1" lengthAdjust="spacingAndGlyphs">ganglion</text>
<text x="27.7" y="441.8" font-size="13.3" text-anchor="start" fill="#222" textLength="87.4" lengthAdjust="spacingAndGlyphs">Afferent vagus</text>
<text x="54.1" y="458.9" font-size="13.3" text-anchor="start" fill="#222" textLength="34.0" lengthAdjust="spacingAndGlyphs">nerve</text>
<text x="66.0" y="596.1" font-size="13.3" text-anchor="start" fill="#222" textLength="27.9" lengthAdjust="spacingAndGlyphs">VNS</text>
<g id="hypo">
<path d="M369,52 C366,60 361,68 358,78 C354,92 357,108 367,113.5 C375,116.5 381.5,108 380.8,98 C380,88 372,82 367.5,74 C365,67 368,59 372.5,52.5 Z" fill="#f1d2d3"/>
<path d="M372,92 C377,94 379,102 375,109 C372,113 368,113 366,111 C372,108 374,100 372,92 Z" fill="#e7bcc0"/>
<path d="M353,53 C356,62 356,70 352,77 C346,83 333,88 329,99 C326,110 335,119.5 346,120 C356,120.3 362.5,113 362,104 C361.5,94 357,88 357.5,79 C358,70 361,62 363.5,55 Z" fill="#e8a4a9"/>
<path d="M340,88 C334,94 332,104 336,112 C334,105 335,96 340,88 Z" fill="#f2c3c5"/>
<path d="M357.5,80 C356,90 360,96 362,104 C362.4,110 360,115 356,118 C352,113 351,100 353,90 C354,85 356,82 357.5,80 Z" fill="#de9198"/>
<path d="M359.4,25.8 L390.6,25.8 L390.6,43.6 C384,46 376,49 371,52 C368,54 366,57 362.5,57 C357,56.5 354,53.5 349,53.2 C345,53 341.5,52.6 341,50 C340.8,47.5 342.3,45.5 344,43.5 Z" fill="#ecaaa9"/>
<path d="M360.4,26.6 L390.6,26.6 L390.6,43 C384,45.4 376.5,48 371.5,50.6 C368,52.6 366,55.3 363,55.3 C358.5,54.8 355,51.8 350,51.6 C346.5,51.5 343,51.3 342.7,49.6 C342.6,47.8 344,46 345.4,44.3 Z" fill="#9e3034"/>
<circle cx="364.1" cy="31.5" r="1.5" fill="#f7dd6a"/>
<circle cx="378.0" cy="34.2" r="1.5" fill="#f7dd6a"/>
<circle cx="355.5" cy="38.3" r="1.5" fill="#f7dd6a"/>
<circle cx="362.0" cy="38.5" r="1.5" fill="#f7dd6a"/>
<circle cx="370.6" cy="39.2" r="1.5" fill="#f7dd6a"/>
<circle cx="364.6" cy="43.0" r="1.5" fill="#f7dd6a"/>
<circle cx="373.0" cy="45.0" r="1.5" fill="#f7dd6a"/>
<circle cx="359.5" cy="46.8" r="1.5" fill="#f7dd6a"/>
<circle cx="367.0" cy="49.3" r="1.5" fill="#f7dd6a"/>
</g>
<circle cx="316.5" cy="114.2" r="1.9" fill="#cad9b2"/>
<circle cx="325.0" cy="111.4" r="1.9" fill="#cad9b2"/>
<circle cx="324.0" cy="117.5" r="1.9" fill="#cad9b2"/>
<circle cx="329.7" cy="119.0" r="1.9" fill="#cad9b2"/>
<circle cx="316.5" cy="122.4" r="1.9" fill="#cad9b2"/>
<circle cx="322.7" cy="124.3" r="1.9" fill="#cad9b2"/>
<circle cx="328.2" cy="128.5" r="1.9" fill="#cad9b2"/>
<circle cx="333.5" cy="124.7" r="1.9" fill="#cad9b2"/>
<circle cx="337.3" cy="121.8" r="1.9" fill="#cad9b2"/>
<circle cx="334.5" cy="128.9" r="1.9" fill="#cad9b2"/>
<circle cx="321.2" cy="133.8" r="1.9" fill="#cad9b2"/>
<circle cx="332.0" cy="137.0" r="1.9" fill="#cad9b2"/>
<circle cx="337.7" cy="133.8" r="1.9" fill="#cad9b2"/>
<circle cx="340.2" cy="140.3" r="1.9" fill="#cad9b2"/>
<circle cx="345.9" cy="135.7" r="1.9" fill="#cad9b2"/>
<circle cx="343.6" cy="129.4" r="1.9" fill="#cad9b2"/>
<circle cx="351.2" cy="124.3" r="1.9" fill="#cad9b2"/>
<circle cx="333.5" cy="114.2" r="1.9" fill="#cad9b2"/>
<path d="M331.3,145.2 L331.3,171.6" fill="none" stroke="#84878d" stroke-width="1.15" marker-end="url(#ah)"/>
<rect x="269.6" y="177.8" width="94.9" height="29.5" fill="#d8705f"/>
<rect x="269.6" y="183" width="94.9" height="20.2" fill="#922d2f"/>
<rect x="269.6" y="189.5" width="94.9" height="7.2" fill="#9d3436"/>
<path d="M269.6,183 H364.5 M269.6,203.2 H364.5" stroke="#7c2528" stroke-width="0.6" stroke-dasharray="1.5 1.5" fill="none"/>
<circle cx="273.6" cy="187.1" r="1.05" fill="#dbe2b4"/>
<circle cx="278.4" cy="186.2" r="1.05" fill="#dbe2b4"/>
<circle cx="288.4" cy="186.8" r="1.05" fill="#dbe2b4"/>
<circle cx="296.8" cy="186.8" r="1.05" fill="#dbe2b4"/>
<circle cx="301.5" cy="187.3" r="1.05" fill="#dbe2b4"/>
<circle cx="307.8" cy="186.3" r="1.05" fill="#dbe2b4"/>
<circle cx="320.9" cy="185.2" r="1.05" fill="#dbe2b4"/>
<circle cx="325.7" cy="185.9" r="1.05" fill="#dbe2b4"/>
<circle cx="332.5" cy="186.0" r="1.05" fill="#dbe2b4"/>
<circle cx="336.5" cy="186.4" r="1.05" fill="#dbe2b4"/>
<circle cx="340.9" cy="187.3" r="1.05" fill="#dbe2b4"/>
<circle cx="347.1" cy="186.5" r="1.05" fill="#dbe2b4"/>
<circle cx="350.5" cy="185.5" r="1.05" fill="#dbe2b4"/>
<circle cx="360.6" cy="186.9" r="1.05" fill="#dbe2b4"/>
<circle cx="277.0" cy="191.7" r="1.05" fill="#dbe2b4"/>
<circle cx="286.6" cy="190.7" r="1.05" fill="#dbe2b4"/>
<circle cx="290.2" cy="189.7" r="1.05" fill="#dbe2b4"/>
<circle cx="296.0" cy="190.2" r="1.05" fill="#dbe2b4"/>
<circle cx="306.1" cy="191.5" r="1.05" fill="#dbe2b4"/>
<circle cx="313.7" cy="189.7" r="1.05" fill="#dbe2b4"/>
<circle cx="318.8" cy="191.0" r="1.05" fill="#dbe2b4"/>
<circle cx="323.7" cy="191.4" r="1.05" fill="#dbe2b4"/>
<circle cx="333.2" cy="190.6" r="1.05" fill="#dbe2b4"/>
<circle cx="338.4" cy="192.0" r="1.05" fill="#dbe2b4"/>
<circle cx="343.3" cy="191.8" r="1.05" fill="#dbe2b4"/>
<circle cx="348.4" cy="191.7" r="1.05" fill="#dbe2b4"/>
<circle cx="352.5" cy="192.1" r="1.05" fill="#dbe2b4"/>
<circle cx="357.8" cy="191.5" r="1.05" fill="#dbe2b4"/>
<circle cx="362.7" cy="189.7" r="1.05" fill="#dbe2b4"/>
<circle cx="277.7" cy="195.9" r="1.05" fill="#dbe2b4"/>
<circle cx="283.1" cy="196.8" r="1.05" fill="#dbe2b4"/>
<circle cx="288.2" cy="196.6" r="1.05" fill="#dbe2b4"/>
<circle cx="303.4" cy="194.9" r="1.05" fill="#dbe2b4"/>
<circle cx="313.4" cy="194.8" r="1.05" fill="#dbe2b4"/>
<circle cx="318.1" cy="195.9" r="1.05" fill="#dbe2b4"/>
<circle cx="321.0" cy="194.4" r="1.05" fill="#dbe2b4"/>
<circle cx="326.2" cy="196.1" r="1.05" fill="#dbe2b4"/>
<circle cx="332.5" cy="195.9" r="1.05" fill="#dbe2b4"/>
<circle cx="335.8" cy="196.2" r="1.05" fill="#dbe2b4"/>
<circle cx="346.4" cy="196.5" r="1.05" fill="#dbe2b4"/>
<circle cx="350.6" cy="196.7" r="1.05" fill="#dbe2b4"/>
<circle cx="354.8" cy="195.0" r="1.05" fill="#dbe2b4"/>
<circle cx="359.7" cy="194.8" r="1.05" fill="#dbe2b4"/>
<circle cx="276.1" cy="199.4" r="1.05" fill="#dbe2b4"/>
<circle cx="281.7" cy="201.6" r="1.05" fill="#dbe2b4"/>
<circle cx="286.1" cy="200.6" r="1.05" fill="#dbe2b4"/>
<circle cx="305.5" cy="201.6" r="1.05" fill="#dbe2b4"/>
<circle cx="314.7" cy="201.0" r="1.05" fill="#dbe2b4"/>
<circle cx="320.7" cy="199.3" r="1.05" fill="#dbe2b4"/>
<circle cx="325.0" cy="201.4" r="1.05" fill="#dbe2b4"/>
<circle cx="329.7" cy="201.2" r="1.05" fill="#dbe2b4"/>
<circle cx="333.7" cy="200.9" r="1.05" fill="#dbe2b4"/>
<circle cx="339.8" cy="200.2" r="1.05" fill="#dbe2b4"/>
<circle cx="344.7" cy="200.6" r="1.05" fill="#dbe2b4"/>
<circle cx="348.4" cy="200.6" r="1.05" fill="#dbe2b4"/>
<circle cx="352.5" cy="200.8" r="1.05" fill="#dbe2b4"/>
<circle cx="359.3" cy="201.0" r="1.05" fill="#dbe2b4"/>
<circle cx="363.8" cy="200.6" r="1.05" fill="#dbe2b4"/>
<path d="M279,188.3 H301" stroke="#f4efe6" stroke-width="0.8"/><path d="M303,188.3 l-4.5,-1.9 l1.2,1.9 l-1.2,1.9 Z" fill="#f4efe6"/>
<path d="M316,187.3 H339" stroke="#f4efe6" stroke-width="0.8"/><path d="M341,187.3 l-4.5,-1.9 l1.2,1.9 l-1.2,1.9 Z" fill="#f4efe6"/>
<path d="M283,197.4 H307" stroke="#f4efe6" stroke-width="0.8"/><path d="M309,197.4 l-4.5,-1.9 l1.2,1.9 l-1.2,1.9 Z" fill="#f4efe6"/>
<path d="M308,193.2 H326" stroke="#f4efe6" stroke-width="0.8"/><path d="M328,193.2 l-4.5,-1.9 l1.2,1.9 l-1.2,1.9 Z" fill="#f4efe6"/>
<path d="M373,198.3 L423.4,203.9" fill="none" stroke="#84878d" stroke-width="1.15" marker-end="url(#ah)"/>
<circle cx="456.5" cy="186.9" r="2.1" fill="#cad9b2"/>
<circle cx="446.4" cy="188.7" r="2.1" fill="#cad9b2"/>
<circle cx="438.7" cy="190.9" r="2.1" fill="#cad9b2"/>
<circle cx="454.3" cy="193.7" r="2.1" fill="#cad9b2"/>
<circle cx="448.7" cy="195.2" r="2.1" fill="#cad9b2"/>
<circle cx="440.7" cy="196.0" r="2.1" fill="#cad9b2"/>
<circle cx="429.3" cy="198.4" r="2.1" fill="#cad9b2"/>
<circle cx="436.1" cy="198.4" r="2.1" fill="#cad9b2"/>
<circle cx="445.9" cy="199.1" r="2.1" fill="#cad9b2"/>
<circle cx="461.1" cy="197.8" r="2.1" fill="#cad9b2"/>
<circle cx="451.3" cy="202.8" r="2.1" fill="#cad9b2"/>
<circle cx="439.2" cy="203.5" r="2.1" fill="#cad9b2"/>
<circle cx="443.9" cy="203.5" r="2.1" fill="#cad9b2"/>
<circle cx="448.6" cy="206.0" r="2.1" fill="#cad9b2"/>
<circle cx="433.5" cy="207.8" r="2.1" fill="#cad9b2"/>
<circle cx="442.1" cy="211.1" r="2.1" fill="#cad9b2"/>
<circle cx="454.5" cy="211.8" r="2.1" fill="#cad9b2"/>
<path d="M452,275.8 H462.3 Q465.3,275.8 465.3,278.8 V326" fill="none" stroke="#e57564" stroke-width="5"/>
<path d="M488,275.8 H477 Q474,275.8 474,278.8 V326" fill="none" stroke="#e57564" stroke-width="5"/>
<path d="M446.3,233.5 C456,233.5 465.6,241 466.2,251 C466.6,259.5 461,265 457.3,269.3 C455.8,271.5 455.5,274 455.6,276 C455.6,279 456.4,282.5 457.2,286.5 C458.5,294.5 452,303.8 441,304.3 C427,305 416,290 415.7,271 C415.4,252 429,233.500 446.3,233.5 Z" fill="#e57564"/>
<path d="M493.2,233.5 C483.500,233.5 473.900,241 473.3,251 C472.9,259.5 478.5,265 482.2,269.3 C483.7,271.5 484,274 483.9,276 C483.9,279 483.1,282.5 482.3,286.5 C481,294.5 487.5,303.8 498.5,304.3 C512.5,305 523.5,290 523.8,271 C524.1,252 510.500,233.500 493.2,233.5 Z" fill="#e57564"/>
<path d="M426.0,235.5 C425.4,232.0 425.0,233.6 426.8,229.0 C428.6,224.4 427.8,225.6 431.5,221.6 C435.2,217.6 433.3,219.3 438.0,217.0 C442.7,214.7 440.5,215.2 445.5,214.8 C450.5,214.4 448.3,214.2 453.0,215.8 C457.7,217.4 455.7,216.4 459.5,219.6 C463.3,222.8 462.1,221.4 464.5,225.5 C466.9,229.6 465.9,227.7 466.6,232.0 C467.3,236.3 467.0,235.0 466.6,238.5 C466.2,242.0 467.4,242.0 465.5,242.6 C463.6,243.2 464.7,242.5 460.9,240.3 C457.1,238.1 458.8,238.3 454.0,236.0 C449.2,233.7 451.2,233.7 446.5,233.4 C441.8,233.1 444.2,233.3 440.0,235.2 C435.8,237.1 437.7,237.8 433.9,239.2 C430.1,240.6 431.1,240.7 428.5,239.5 C425.9,238.3 426.6,239.0 426.0,235.5 Z" fill="#f5d574"/>
<path d="M430,229 C433,222.500 440,218.500 447,218.300 C453,218.300 458,221 461,225 C456,222.500 450,222 444,223.500 C438,225 433,227.500 430,231 Z" fill="#f8df8f" opacity="0.8"/>
<path d="M477.8,236.2 C478.3,234.5 478.4,234.2 481.5,231.3 C484.6,228.4 482.8,229.9 487.0,227.5 C491.2,225.1 489.2,226.4 494.0,224.0 C498.8,221.6 497.4,222.2 501.4,220.2 C505.4,218.2 503.0,218.9 506.0,218.0 C509.0,217.1 507.5,217.0 510.3,217.5 C513.1,218.0 512.3,217.1 514.5,219.6 C516.7,222.1 516.0,221.2 516.8,225.0 C517.6,228.8 517.5,226.5 516.9,231.0 C516.3,235.5 516.6,234.2 515.0,238.5 C513.4,242.8 514.0,241.3 512.0,243.8 C510.0,246.3 511.1,245.9 509.0,246.0 C506.9,246.1 508.0,245.9 505.8,244.0 C503.6,242.1 505.8,242.8 502.5,240.2 C499.2,237.6 500.2,238.2 496.0,236.2 C491.8,234.2 494.0,234.9 490.0,234.3 C486.0,233.7 487.3,233.7 484.0,234.4 C480.7,235.1 482.1,235.9 480.0,236.5 C477.9,237.1 477.3,237.9 477.8,236.2 Z" fill="#f5d574"/>
<path d="M486,231 C492,227 500,224.500 505.500,221 C509,219.500 512,221 513,224.500 C509.500,223.500 506,225 501,228 C496,230.500 490,231 486,231 Z" fill="#f8df8f" opacity="0.8"/>
<path d="M461.6,218.1 L504.4,185.2" fill="none" stroke="#84878d" stroke-width="1.15" marker-end="url(#ah)"/>
<path d="M492,220.2 L508.6,188.4" fill="none" stroke="#84878d" stroke-width="1.15" marker-end="url(#ah)"/>
<circle cx="514.5" cy="157.8" r="2.3" fill="#6690a4"/>
<circle cx="528.2" cy="162.0" r="2.3" fill="#6690a4"/>
<circle cx="508.0" cy="168.0" r="2.3" fill="#6690a4"/>
<circle cx="518.6" cy="165.5" r="2.3" fill="#6690a4"/>
<circle cx="532.6" cy="167.5" r="2.3" fill="#6690a4"/>
<circle cx="543.0" cy="158.8" r="2.3" fill="#6690a4"/>
<circle cx="562.5" cy="160.5" r="2.3" fill="#6690a4"/>
<circle cx="516.5" cy="170.8" r="2.3" fill="#6690a4"/>
<circle cx="526.0" cy="174.5" r="2.3" fill="#6690a4"/>
<circle cx="541.0" cy="167.3" r="2.3" fill="#6690a4"/>
<circle cx="553.0" cy="167.5" r="2.3" fill="#6690a4"/>
<circle cx="545.5" cy="173.0" r="2.3" fill="#6690a4"/>
<circle cx="511.5" cy="178.8" r="2.3" fill="#6690a4"/>
<circle cx="520.8" cy="181.8" r="2.3" fill="#6690a4"/>
<circle cx="536.0" cy="179.2" r="2.3" fill="#6690a4"/>
<circle cx="539.0" cy="177.6" r="2.3" fill="#6690a4"/>
<circle cx="549.5" cy="181.5" r="2.3" fill="#6690a4"/>
<circle cx="557.0" cy="174.8" r="2.3" fill="#6690a4"/>
<path d="M552,153 L649,104.3" fill="none" stroke="#84878d" stroke-width="1.0"/>
<path d="M640,108.8 L652.9,102.3" fill="none" stroke="#84878d" stroke-width="1.15" marker-end="url(#ah)"/>
<text x="258.5" y="38.5" font-size="13.3" text-anchor="start" fill="#222" textLength="86.6" lengthAdjust="spacingAndGlyphs">Hypothalamus</text>
<text x="397.1" y="38.5" font-size="13.3" text-anchor="start" fill="#222" textLength="29.7" lengthAdjust="spacingAndGlyphs">CRH</text>
<text x="278.3" y="81.2" font-size="13.3" text-anchor="start" fill="#222" textLength="48.2" lengthAdjust="spacingAndGlyphs">Anterior</text>
<text x="278.8" y="98.3" font-size="13.3" text-anchor="start" fill="#222" textLength="47.8" lengthAdjust="spacingAndGlyphs">pituitary</text>
<text x="359.5" y="134.0" font-size="13.3" text-anchor="start" fill="#222" textLength="37.3" lengthAdjust="spacingAndGlyphs">ACTH</text>
<text x="259.3" y="226.0" font-size="13.3" text-anchor="start" fill="#222" textLength="100.1" lengthAdjust="spacingAndGlyphs">Blood circulation</text>
<text x="514.9" y="38.9" font-size="13.3" text-anchor="start" fill="#222" textLength="80.4" lengthAdjust="spacingAndGlyphs">Immune cells</text>
<text x="470.7" y="84.6" font-size="13.3" text-anchor="start" fill="#222" textLength="76.2" lengthAdjust="spacingAndGlyphs">IL-6、TNF-α</text>
<text x="514.6" y="198.8" font-size="13.3" text-anchor="start" fill="#222" textLength="46.0" lengthAdjust="spacingAndGlyphs">Cortisol</text>
<text x="518.9" y="242.7" font-size="13.3" text-anchor="start" fill="#222" textLength="47.3" lengthAdjust="spacingAndGlyphs">Adrenal</text>
<text x="525.9" y="258.7" font-size="13.3" text-anchor="start" fill="#222" textLength="33.3" lengthAdjust="spacingAndGlyphs">gland</text>
<path d="M900.5,55.1 C850,42 760,38 700,44 C650,49.5 600,63 558.4,77.3" fill="none" stroke="#84878d" stroke-width="1.0"/>
<path d="M559.6,80.7 L557.2,73.9" fill="none" stroke="#84878d" stroke-width="1.0"/>
<path d="M676.4000000000001,85.0 C676.4000000000001,66.8 690.7,50.8 712.7,50.8 C734.7,50.8 749.0,66.8 749.0,85.0 C749.0,96.0 731.0,97.0 730.9000000000001,85.0 C730.7,76.8 722.7,69.1 712.7,69.1 C702.7,69.1 694.7,76.8 694.5,85.0 C694.4000000000001,97.0 676.4000000000001,96.0 676.4000000000001,85.0 Z" fill="#c5b5d1" transform="translate(0,0.6)"/>
<path d="M676.4000000000001,85.0 C676.4000000000001,66.8 690.7,50.8 712.7,50.8 C734.7,50.8 749.0,66.8 749.0,85.0 C749.0,96.0 731.0,97.0 730.9000000000001,85.0 C730.7,76.8 722.7,69.1 712.7,69.1 C702.7,69.1 694.7,76.8 694.5,85.0 C694.4000000000001,97.0 676.4000000000001,96.0 676.4000000000001,85.0 Z" fill="#d6cadc" transform="translate(0,-0.8)"/>
<path d="M694.5,85.0 C694.7,76.8 702.7,69.1 712.7,69.1 C722.7,69.1 730.7,76.8 730.9000000000001,85.0" fill="none" stroke="#c5b5d1" stroke-width="1.2"/>
<ellipse cx="712.7" cy="85.7" rx="16.6" ry="16.6" fill="#dc9298"/>
<ellipse cx="712.0" cy="84.8" rx="15.6" ry="15.4" fill="#e9a5a9"/>
<text x="700.1" y="66.6" font-size="13.3" text-anchor="start" fill="#222" textLength="27.8" lengthAdjust="spacingAndGlyphs">HSP</text>
<text x="712.7" y="90.9" font-size="13.3" text-anchor="middle" fill="#222">GR</text>
<circle cx="663.5" cy="93.4" r="9.4" fill="#6a7a90"/>
<path d="M694.4,104 L678,127.3" fill="none" stroke="#84878d" stroke-width="1.15" marker-end="url(#ah)"/>
<path d="M731,103.4 L748,127.3" fill="none" stroke="#84878d" stroke-width="1.15" marker-end="url(#ah)"/>
<path d="M626.7,165.0 C626.7,146.8 641,130.8 663,130.8 C685,130.8 699.3,146.8 699.3,165.0 C699.3,176.0 681.3,177.0 681.2,165.0 C681,156.8 673,149.10000000000002 663,149.10000000000002 C653,149.10000000000002 645,156.8 644.8,165.0 C644.7,177.0 626.7,176.0 626.7,165.0 Z" fill="#c5b5d1" transform="translate(0,0.6)"/>
<path d="M626.7,165.0 C626.7,146.8 641,130.8 663,130.8 C685,130.8 699.3,146.8 699.3,165.0 C699.3,176.0 681.3,177.0 681.2,165.0 C681,156.8 673,149.10000000000002 663,149.10000000000002 C653,149.10000000000002 645,156.8 644.8,165.0 C644.7,177.0 626.7,176.0 626.7,165.0 Z" fill="#d6cadc" transform="translate(0,-0.8)"/>
<path d="M644.8,165.0 C645,156.8 653,149.10000000000002 663,149.10000000000002 C673,149.10000000000002 681,156.8 681.2,165.0" fill="none" stroke="#c5b5d1" stroke-width="1.2"/>
<text x="649.2" y="146.0" font-size="13.3" text-anchor="start" fill="#222" textLength="28.8" lengthAdjust="spacingAndGlyphs">HSP</text>
<circle cx="723.7" cy="137.2" r="9.4" fill="#6a7a90"/><circle cx="777.1" cy="137.2" r="9.4" fill="#6a7a90"/>
<ellipse cx="736.0" cy="154.3" rx="15.6" ry="15.6" fill="#dc9298"/>
<ellipse cx="735.3" cy="153.4" rx="14.6" ry="14.4" fill="#e9a5a9"/>
<ellipse cx="764.3" cy="154.3" rx="15.6" ry="15.6" fill="#dc9298"/>
<ellipse cx="763.6" cy="153.4" rx="14.6" ry="14.4" fill="#e9a5a9"/>
<text x="736.0" y="159.4" font-size="13.3" text-anchor="middle" fill="#222">GR</text>
<text x="764.3" y="159.4" font-size="13.3" text-anchor="middle" fill="#222">GR</text>
<path d="M782,154 L845.5,166.5" fill="none" stroke="#84878d" stroke-width="1.15" marker-end="url(#ah)"/>
<text x="863.4" y="83.7" font-size="11.4" text-anchor="start" fill="#222" textLength="62.2" lengthAdjust="spacingAndGlyphs">IκBα mRNA</text>
<text x="854.8" y="116.1" font-size="11.4" text-anchor="start" fill="#222" textLength="61.2" lengthAdjust="spacingAndGlyphs">Lipocortin-1</text>
<text x="868.4" y="131.3" font-size="11.4" text-anchor="start" fill="#222" textLength="34.6" lengthAdjust="spacingAndGlyphs">mRNA</text>
<circle cx="852.7" cy="151.5" r="9.3" fill="#6a7a90"/><circle cx="905.4" cy="151.2" r="9.3" fill="#6a7a90"/>
<ellipse cx="864.2" cy="168.0" rx="15.6" ry="15.6" fill="#dc9298"/>
<ellipse cx="863.5" cy="167.1" rx="14.6" ry="14.4" fill="#e9a5a9"/>
<ellipse cx="891.9" cy="168.0" rx="15.6" ry="15.6" fill="#dc9298"/>
<ellipse cx="891.2" cy="167.1" rx="14.6" ry="14.4" fill="#e9a5a9"/>
<text x="864.2" y="173.1" font-size="13.3" text-anchor="middle" fill="#222">GR</text>
<text x="891.9" y="173.1" font-size="13.3" text-anchor="middle" fill="#222">GR</text>
<rect x="917.5" y="125.8" width="8.5" height="103.5" fill="#d0c4e6"/>
<path d="M916.2,126.6 H921.8" stroke="#9bd0f0" stroke-width="2.3"/><path d="M921.8,126.6 H927.3" stroke="#b4d8f3" stroke-width="2.3"/>
<path d="M916.4,129.7 H921.8" stroke="#b4d8f3" stroke-width="2.3"/><path d="M921.8,129.7 H927.1" stroke="#9bd0f0" stroke-width="2.3"/>
<path d="M916.7,132.8 H921.8" stroke="#9bd0f0" stroke-width="2.3"/><path d="M921.8,132.8 H926.8" stroke="#b4d8f3" stroke-width="2.3"/>
<path d="M917.1,135.9 H921.8" stroke="#b4d8f3" stroke-width="2.3"/><path d="M921.8,135.9 H926.4" stroke="#9bd0f0" stroke-width="2.3"/>
<path d="M917.4,139.0 H921.8" stroke="#9bd0f0" stroke-width="2.3"/><path d="M921.8,139.0 H926.1" stroke="#b4d8f3" stroke-width="2.3"/>
<path d="M916.9,142.0 H921.8" stroke="#b4d8f3" stroke-width="2.3"/><path d="M921.8,142.0 H926.6" stroke="#9bd0f0" stroke-width="2.3"/>
<path d="M916.5,145.1 H921.8" stroke="#9bd0f0" stroke-width="2.3"/><path d="M921.8,145.1 H927.0" stroke="#b4d8f3" stroke-width="2.3"/>
<path d="M916.3,148.2 H921.8" stroke="#b4d8f3" stroke-width="2.3"/><path d="M921.8,148.2 H927.2" stroke="#9bd0f0" stroke-width="2.3"/>
<path d="M916.2,151.3 H921.8" stroke="#9bd0f0" stroke-width="2.3"/><path d="M921.8,151.3 H927.3" stroke="#b4d8f3" stroke-width="2.3"/>
<path d="M916.3,154.4 H921.8" stroke="#b4d8f3" stroke-width="2.3"/><path d="M921.8,154.4 H927.2" stroke="#9bd0f0" stroke-width="2.3"/>
<path d="M916.6,157.5 H921.8" stroke="#9bd0f0" stroke-width="2.3"/><path d="M921.8,157.5 H926.9" stroke="#b4d8f3" stroke-width="2.3"/>
<path d="M917.1,160.6 H921.8" stroke="#b4d8f3" stroke-width="2.3"/><path d="M921.8,160.6 H926.4" stroke="#9bd0f0" stroke-width="2.3"/>
<path d="M917.4,163.7 H921.8" stroke="#9bd0f0" stroke-width="2.3"/><path d="M921.8,163.7 H926.1" stroke="#b4d8f3" stroke-width="2.3"/>
<path d="M916.9,166.7 H921.8" stroke="#b4d8f3" stroke-width="2.3"/><path d="M921.8,166.7 H926.6" stroke="#9bd0f0" stroke-width="2.3"/>
<path d="M916.5,169.8 H921.8" stroke="#9bd0f0" stroke-width="2.3"/><path d="M921.8,169.8 H927.0" stroke="#b4d8f3" stroke-width="2.3"/>
<path d="M916.3,172.9 H921.8" stroke="#b4d8f3" stroke-width="2.3"/><path d="M921.8,172.9 H927.2" stroke="#9bd0f0" stroke-width="2.3"/>
<path d="M916.2,176.0 H921.8" stroke="#9bd0f0" stroke-width="2.3"/><path d="M921.8,176.0 H927.3" stroke="#b4d8f3" stroke-width="2.3"/>
<path d="M916.3,179.1 H921.8" stroke="#b4d8f3" stroke-width="2.3"/><path d="M921.8,179.1 H927.2" stroke="#9bd0f0" stroke-width="2.3"/>
<path d="M916.6,182.2 H921.8" stroke="#9bd0f0" stroke-width="2.3"/><path d="M921.8,182.2 H926.9" stroke="#b4d8f3" stroke-width="2.3"/>
<path d="M917.1,185.3 H921.8" stroke="#b4d8f3" stroke-width="2.3"/><path d="M921.8,185.3 H926.4" stroke="#9bd0f0" stroke-width="2.3"/>
<path d="M917.5,188.4 H921.8" stroke="#9bd0f0" stroke-width="2.3"/><path d="M921.8,188.4 H926.0" stroke="#b4d8f3" stroke-width="2.3"/>
<path d="M917.0,191.4 H921.8" stroke="#b4d8f3" stroke-width="2.3"/><path d="M921.8,191.4 H926.5" stroke="#9bd0f0" stroke-width="2.3"/>
<path d="M916.6,194.5 H921.8" stroke="#9bd0f0" stroke-width="2.3"/><path d="M921.8,194.5 H926.9" stroke="#b4d8f3" stroke-width="2.3"/>
<path d="M916.3,197.6 H921.8" stroke="#b4d8f3" stroke-width="2.3"/><path d="M921.8,197.6 H927.2" stroke="#9bd0f0" stroke-width="2.3"/>
<path d="M916.2,200.7 H921.8" stroke="#9bd0f0" stroke-width="2.3"/><path d="M921.8,200.7 H927.3" stroke="#b4d8f3" stroke-width="2.3"/>
<path d="M916.3,203.8 H921.8" stroke="#b4d8f3" stroke-width="2.3"/><path d="M921.8,203.8 H927.2" stroke="#9bd0f0" stroke-width="2.3"/>
<path d="M916.6,206.9 H921.8" stroke="#9bd0f0" stroke-width="2.3"/><path d="M921.8,206.9 H926.9" stroke="#b4d8f3" stroke-width="2.3"/>
<path d="M917.0,210.0 H921.8" stroke="#b4d8f3" stroke-width="2.3"/><path d="M921.8,210.0 H926.5" stroke="#9bd0f0" stroke-width="2.3"/>
<path d="M917.5,213.1 H921.8" stroke="#9bd0f0" stroke-width="2.3"/><path d="M921.8,213.1 H926.0" stroke="#b4d8f3" stroke-width="2.3"/>
<path d="M917.0,216.1 H921.8" stroke="#b4d8f3" stroke-width="2.3"/><path d="M921.8,216.1 H926.5" stroke="#9bd0f0" stroke-width="2.3"/>
<path d="M916.6,219.2 H921.8" stroke="#9bd0f0" stroke-width="2.3"/><path d="M921.8,219.2 H926.9" stroke="#b4d8f3" stroke-width="2.3"/>
<path d="M916.3,222.3 H921.8" stroke="#b4d8f3" stroke-width="2.3"/><path d="M921.8,222.3 H927.2" stroke="#9bd0f0" stroke-width="2.3"/>
<path d="M916.2,225.4 H921.8" stroke="#9bd0f0" stroke-width="2.3"/><path d="M921.8,225.4 H927.3" stroke="#b4d8f3" stroke-width="2.3"/>
<path d="M916.3,228.5 H921.8" stroke="#b4d8f3" stroke-width="2.3"/><path d="M921.8,228.5 H927.2" stroke="#9bd0f0" stroke-width="2.3"/>
<polyline points="926.1,125.8 926.1,126.4 926.0,127.1 926.0,127.7 925.9,128.4 925.7,129.0 925.6,129.7 925.4,130.3 925.2,131.0 925.0,131.6 924.7,132.3 924.5,132.9 924.2,133.6 923.9,134.2 923.6,134.9 923.2,135.5 922.9,136.2 922.5,136.8 922.2,137.4 921.8,138.1 921.5,138.7 921.1,139.4 920.8,140.0 920.4,140.7 920.1,141.3 919.8,142.0 919.5,142.6 919.2,143.3 918.9,143.9 918.6,144.6 918.4,145.2 918.2,145.9 918.0,146.5 917.8,147.1 917.7,147.8 917.6,148.4 917.5,149.1 917.4,149.7 917.4,150.4 917.4,151.0 917.4,151.7 917.5,152.3 917.6,153.0 917.7,153.6 917.8,154.3 918.0,154.9 918.2,155.6 918.4,156.2 918.6,156.8 918.9,157.5 919.2,158.1 919.5,158.8 919.8,159.4 920.1,160.1 920.4,160.7 920.8,161.4 921.1,162.0 921.5,162.7 921.8,163.3 922.2,164.0 922.5,164.6 922.9,165.3 923.2,165.9 923.6,166.6 923.9,167.2 924.2,167.8 924.5,168.5 924.7,169.1 925.0,169.8 925.2,170.4 925.4,171.1 925.6,171.7 925.7,172.4 925.9,173.0 926.0,173.7 926.0,174.3 926.1,175.0 926.1,175.6 926.1,176.3 926.0,176.9 926.0,177.6 925.9,178.2 925.7,178.8 925.6,179.5 925.4,180.1 925.2,180.8 925.0,181.4 924.7,182.1 924.5,182.7 924.2,183.4 923.9,184.0 923.6,184.7 923.2,185.3 922.9,186.0 922.5,186.6 922.2,187.3 921.8,187.9 921.5,188.5 921.1,189.2 920.8,189.8 920.4,190.5 920.1,191.1 919.8,191.8 919.5,192.4 919.2,193.1 918.9,193.7 918.6,194.4 918.4,195.0 918.2,195.7 918.0,196.3 917.8,197.0 917.7,197.6 917.6,198.2 917.5,198.9 917.4,199.5 917.4,200.2 917.4,200.8 917.4,201.5 917.5,202.1 917.6,202.8 917.7,203.4 917.8,204.1 918.0,204.7 918.2,205.4 918.4,206.0 918.6,206.7 918.9,207.3 919.2,208.0 919.5,208.6 919.8,209.2 920.1,209.9 920.4,210.5 920.8,211.2 921.1,211.8 921.5,212.5 921.8,213.1 922.2,213.8 922.6,214.4 922.9,215.1 923.2,215.7 923.6,216.4 923.9,217.0 924.2,217.7 924.5,218.3 924.7,219.0 925.0,219.6 925.2,220.2 925.4,220.9 925.6,221.5 925.7,222.2 925.9,222.8 926.0,223.5 926.0,224.1 926.1,224.8 926.1,225.4 926.1,226.1 926.0,226.7 926.0,227.4 925.9,228.0 925.7,228.7 925.6,229.3" fill="none" stroke="#bfaae0" stroke-width="2.7" stroke-linecap="butt"/>
<polyline points="917.4,125.8 917.4,126.4 917.5,127.1 917.5,127.7 917.6,128.4 917.8,129.0 917.9,129.7 918.1,130.3 918.3,131.0 918.5,131.6 918.8,132.3 919.0,132.9 919.3,133.6 919.6,134.2 919.9,134.9 920.3,135.5 920.6,136.2 921.0,136.8 921.3,137.4 921.7,138.1 922.0,138.7 922.4,139.4 922.7,140.0 923.1,140.7 923.4,141.3 923.7,142.0 924.0,142.6 924.3,143.3 924.6,143.9 924.9,144.6 925.1,145.2 925.3,145.9 925.5,146.5 925.7,147.1 925.8,147.8 925.9,148.4 926.0,149.1 926.1,149.7 926.1,150.4 926.1,151.0 926.1,151.7 926.0,152.3 925.9,153.0 925.8,153.6 925.7,154.3 925.5,154.9 925.3,155.6 925.1,156.2 924.9,156.8 924.6,157.5 924.3,158.1 924.0,158.8 923.7,159.4 923.4,160.1 923.1,160.7 922.7,161.4 922.4,162.0 922.0,162.7 921.7,163.3 921.3,164.0 921.0,164.6 920.6,165.3 920.3,165.9 919.9,166.6 919.6,167.2 919.3,167.8 919.0,168.5 918.8,169.1 918.5,169.8 918.3,170.4 918.1,171.1 917.9,171.7 917.8,172.4 917.6,173.0 917.5,173.7 917.5,174.3 917.4,175.0 917.4,175.6 917.4,176.3 917.5,176.9 917.5,177.6 917.6,178.2 917.8,178.8 917.9,179.5 918.1,180.1 918.3,180.8 918.5,181.4 918.8,182.1 919.0,182.7 919.3,183.4 919.6,184.0 919.9,184.7 920.3,185.3 920.6,186.0 921.0,186.6 921.3,187.3 921.7,187.9 922.0,188.5 922.4,189.2 922.7,189.8 923.1,190.5 923.4,191.1 923.7,191.8 924.0,192.4 924.3,193.1 924.6,193.7 924.9,194.4 925.1,195.0 925.3,195.7 925.5,196.3 925.7,197.0 925.8,197.6 925.9,198.2 926.0,198.9 926.1,199.5 926.1,200.2 926.1,200.8 926.1,201.5 926.0,202.1 925.9,202.8 925.8,203.4 925.7,204.1 925.5,204.7 925.3,205.4 925.1,206.0 924.9,206.7 924.6,207.3 924.3,208.0 924.0,208.6 923.7,209.2 923.4,209.9 923.1,210.5 922.7,211.2 922.4,211.8 922.0,212.5 921.7,213.1 921.3,213.8 920.9,214.4 920.6,215.1 920.3,215.7 919.9,216.4 919.6,217.0 919.3,217.7 919.0,218.3 918.8,219.0 918.5,219.6 918.3,220.2 918.1,220.9 917.9,221.5 917.8,222.2 917.6,222.8 917.5,223.5 917.5,224.1 917.4,224.8 917.4,225.4 917.4,226.1 917.5,226.7 917.5,227.4 917.6,228.0 917.8,228.7 917.9,229.3" fill="none" stroke="#8ca6dc" stroke-width="2.7" stroke-linecap="butt"/>
<ellipse cx="681.4" cy="205.2" rx="20.5" ry="16.8" fill="#cd8fb4"/>
<ellipse cx="680.7" cy="204.3" rx="19.5" ry="15.6" fill="#dba6c4"/>
<text x="670.0" y="210.4" font-size="13.3" text-anchor="start" fill="#222" textLength="27.6" lengthAdjust="spacingAndGlyphs">IκBα</text>
<ellipse cx="714.0" cy="195.8" rx="17.7" ry="17.7" fill="#f0a877"/>
<ellipse cx="713.3" cy="194.9" rx="16.7" ry="16.5" fill="#f7bb8c"/>
<ellipse cx="714.0" cy="219.7" rx="17.7" ry="17.7" fill="#f0c3a4"/>
<ellipse cx="713.3" cy="218.8" rx="16.7" ry="16.5" fill="#f9d8bf"/>
<text x="714.0" y="198.2" font-size="13.3" text-anchor="middle" fill="#222">p50</text>
<text x="714.0" y="223.7" font-size="13.3" text-anchor="middle" fill="#222">p65</text>
<path d="M732.5,205.8 L766,205.8" fill="none" stroke="#84878d" stroke-width="1.0"/>
<path d="M766.0,202.2 L766.0,209.4" fill="none" stroke="#84878d" stroke-width="1.0"/>
<ellipse cx="790.5" cy="194.2" rx="18.0" ry="18.0" fill="#f0a877"/>
<ellipse cx="789.8" cy="193.3" rx="17.0" ry="16.8" fill="#f7bb8c"/>
<ellipse cx="790.5" cy="219.2" rx="18.0" ry="18.0" fill="#f0c3a4"/>
<ellipse cx="789.8" cy="218.3" rx="17.0" ry="16.8" fill="#f9d8bf"/>
<text x="790.5" y="196.6" font-size="13.3" text-anchor="middle" fill="#222">p50</text>
<text x="790.5" y="223.2" font-size="13.3" text-anchor="middle" fill="#222">p65</text>
<path d="M814,212.9 L860.8,223.6" fill="none" stroke="#84878d" stroke-width="1.0"/>
<path d="M861.6,220.1 L860.0,227.1" fill="none" stroke="#84878d" stroke-width="1.0"/>
<circle cx="606.1" cy="238.8" r="9.2" fill="#eec55c"/>
<circle cx="605.7" cy="238.3" r="8.299999999999999" fill="#f7d870"/>
<text x="606.1" y="243.4" font-size="13.3" text-anchor="middle" fill="#222">P</text>
<path d="M621.1,245.9 C634,250.5 650,251 663.2,238.3" fill="none" stroke="#84878d" stroke-width="1.15" marker-end="url(#ah)"/>
<ellipse cx="638.2" cy="280.8" rx="22.7" ry="17.6" fill="#c2b0da"/>
<ellipse cx="637.5" cy="279.9" rx="21.7" ry="16.4" fill="#d6c7e6"/>
<text x="628.1" y="285.5" font-size="13.3" text-anchor="start" fill="#222" textLength="22.2" lengthAdjust="spacingAndGlyphs">IKK</text>
<path d="M653.5,263.3 L678.2,230.4" fill="none" stroke="#84878d" stroke-width="1.15" marker-end="url(#ah)"/>
<path d="M712.5,246.8 L712.5,279" fill="none" stroke="#84878d" stroke-width="1.15" marker-end="url(#ah)"/>
<ellipse cx="709.7" cy="306.8" rx="23.0" ry="16.8" fill="#cd8fb4"/>
<ellipse cx="709.0" cy="305.9" rx="22.0" ry="15.6" fill="#dba6c4"/>
<circle cx="730.0" cy="290.5" r="9.2" fill="#eec55c"/>
<circle cx="729.6" cy="290.0" r="8.299999999999999" fill="#f7d870"/>
<text x="730.0" y="295.1" font-size="13.3" text-anchor="middle" fill="#222">P</text>
<text x="696.1" y="311.6" font-size="13.3" text-anchor="start" fill="#222" textLength="27.3" lengthAdjust="spacingAndGlyphs">IκBα</text>
<path d="M739.8,309.6 L764.4,309.6" fill="none" stroke="#84878d" stroke-width="1.15" marker-end="url(#ah)"/>
<circle cx="802.7" cy="257.4" r="9.2" fill="#eec55c"/>
<circle cx="802.3" cy="256.9" r="8.299999999999999" fill="#f7d870"/>
<text x="802.7" y="262.0" font-size="13.3" text-anchor="middle" fill="#222">P</text>
<path d="M807.1,244.7 C809,234 814,227 821.6,222" fill="none" stroke="#84878d" stroke-width="1.15" marker-end="url(#ah)"/>
<ellipse cx="887.0" cy="214.8" rx="17.7" ry="17.7" fill="#f0a877"/>
<ellipse cx="886.3" cy="213.9" rx="16.7" ry="16.5" fill="#f7bb8c"/>
<ellipse cx="887.0" cy="240.6" rx="17.7" ry="17.7" fill="#f0c3a4"/>
<ellipse cx="886.3" cy="239.7" rx="16.7" ry="16.5" fill="#f9d8bf"/>
<text x="887.0" y="217.2" font-size="13.3" text-anchor="middle" fill="#222">p50</text>
<text x="887.0" y="244.6" font-size="13.3" text-anchor="middle" fill="#222">p65</text>
<circle cx="903.0" cy="199.2" r="9.2" fill="#eec55c"/>
<circle cx="902.6" cy="198.7" r="8.299999999999999" fill="#f7d870"/>
<text x="903.0" y="203.8" font-size="13.3" text-anchor="middle" fill="#222">P</text>
<polygon points="774.8,298.7 779.0,299.0 782.3,302.9 778.1,302.9" fill="#a987c2" stroke="#a987c2" stroke-width="0.5" stroke-linejoin="round"/>
<polygon points="783.1,299.6 785.2,296.3 787.9,296.9 785.5,299.0" fill="#a987c2" stroke="#a987c2" stroke-width="0.5" stroke-linejoin="round"/>
<polygon points="791.5,302.3 793.2,297.8 797.4,295.5 797.7,297.2 793.8,301.1" fill="#a987c2" stroke="#a987c2" stroke-width="0.5" stroke-linejoin="round"/>
<polygon points="784.6,302.6 787.9,301.4 790.9,303.5 787.9,304.9" fill="#a987c2" stroke="#a987c2" stroke-width="0.5" stroke-linejoin="round"/>
<polygon points="791.5,307.3 794.4,303.8 798.6,301.7 798.3,303.8 793.8,307.9" fill="#a987c2" stroke="#a987c2" stroke-width="0.5" stroke-linejoin="round"/>
<polygon points="795.6,308.5 797.7,307.2 798.3,308.2 796.5,309.1" fill="#a987c2" stroke="#a987c2" stroke-width="0.5" stroke-linejoin="round"/>
<polygon points="776.3,305.5 779.6,305.5 781.4,307.9 778.7,309.4 776.6,307.6" fill="#a987c2" stroke="#a987c2" stroke-width="0.5" stroke-linejoin="round"/>
<polygon points="783.1,306.4 786.4,306.1 785.2,310.0" fill="#a987c2" stroke="#a987c2" stroke-width="0.5" stroke-linejoin="round"/>
<polygon points="789.1,308.8 790.3,308.5 790.0,310.9" fill="#a987c2" stroke="#a987c2" stroke-width="0.5" stroke-linejoin="round"/>
<polygon points="771.6,316.8 776.0,313.3 782.3,310.9 782.6,312.4 777.2,315.9" fill="#a987c2" stroke="#a987c2" stroke-width="0.5" stroke-linejoin="round"/>
<polygon points="782.6,320.1 782.6,316.8 785.8,312.4 786.4,314.4 784.6,319.8" fill="#a987c2" stroke="#a987c2" stroke-width="0.5" stroke-linejoin="round"/>
<polygon points="788.2,312.7 796.2,315.9 788.8,323.6" fill="#a987c2" stroke="#a987c2" stroke-width="0.5" stroke-linejoin="round"/>
<polygon points="792.0,312.1 796.8,311.5 799.2,313.8 795.0,313.6" fill="#a987c2" stroke="#a987c2" stroke-width="0.5" stroke-linejoin="round"/>
<g id="bstem">
<path d="M337.0,373.0 C339.3,373.0 338.9,373.9 340.4,370.2 C341.9,366.5 340.9,367.2 341.4,362.0 C341.9,356.8 340.4,358.6 341.9,354.5 C343.4,350.4 342.4,351.8 345.8,349.8 C349.2,347.8 346.4,348.3 352.0,348.6 C357.6,348.9 355.4,348.1 362.5,350.8 C369.6,353.5 366.2,351.4 373.2,356.6 C380.2,361.8 377.5,360.3 383.4,366.4 C389.3,372.5 386.9,369.8 391.0,375.0 C395.1,380.2 393.1,376.7 395.8,382.0 C398.5,387.3 397.7,384.4 399.2,391.0 C400.7,397.6 400.4,395.1 400.2,401.8 C400.0,408.5 400.3,404.9 398.6,411.0 C396.9,417.1 398.4,413.8 395.0,420.0 C391.6,426.2 393.5,423.5 388.5,429.5 C383.5,435.5 385.8,432.6 380.0,438.0 C374.2,443.4 377.0,441.1 371.0,445.7 C365.0,450.3 367.8,448.3 362.0,451.8 C356.2,455.3 358.5,454.4 353.5,456.2 C348.5,458.0 350.6,457.8 347.0,457.2 C343.4,456.6 344.9,457.4 342.6,454.5 C340.3,451.6 342.1,451.9 340.2,448.5 C338.3,445.1 339.1,444.4 337.0,444.4 C334.9,444.4 335.7,445.1 333.8,448.5 C331.9,451.9 333.7,451.6 331.4,454.5 C329.1,457.4 330.6,456.6 327.0,457.2 C323.4,457.8 325.5,458.0 320.5,456.2 C315.5,454.4 317.8,455.3 312.0,451.8 C306.2,448.3 309.0,450.3 303.0,445.7 C297.0,441.1 299.8,443.4 294.0,438.0 C288.2,432.6 290.5,435.5 285.5,429.5 C280.5,423.5 282.4,426.2 279.0,420.0 C275.6,413.8 277.1,417.1 275.4,411.0 C273.7,404.9 274.0,408.5 273.8,401.8 C273.6,395.1 273.3,397.6 274.8,391.0 C276.3,384.4 275.5,387.3 278.2,382.0 C280.9,376.7 278.9,380.2 283.0,375.0 C287.1,369.8 284.7,372.5 290.6,366.4 C296.5,360.3 293.8,361.8 300.8,356.6 C307.8,351.4 304.4,353.5 311.5,350.8 C318.6,348.1 316.4,348.9 322.0,348.6 C327.6,348.3 324.8,347.8 328.2,349.8 C331.6,351.8 330.6,350.4 332.1,354.5 C333.6,358.6 332.1,356.8 332.6,362.0 C333.1,367.2 332.1,366.5 333.6,370.2 C335.1,373.9 334.7,373.0 337.0,373.0 Z" fill="#f9dcd6" stroke="#ef9f97" stroke-width="1.3"/>
<path d="M337.0,373.0 C339.3,373.0 338.9,373.9 340.4,370.2 C341.9,366.5 340.9,367.2 341.4,362.0 C341.9,356.8 340.4,358.6 341.9,354.5 C343.4,350.4 342.4,351.8 345.8,349.8 C349.2,347.8 346.4,348.3 352.0,348.6 C357.6,348.9 355.4,348.1 362.5,350.8 C369.6,353.5 366.2,351.4 373.2,356.6 C380.2,361.8 377.5,360.3 383.4,366.4 C389.3,372.5 386.9,369.8 391.0,375.0 C395.1,380.2 393.1,376.7 395.8,382.0 C398.5,387.3 397.7,384.4 399.2,391.0 C400.7,397.6 400.4,395.1 400.2,401.8 C400.0,408.5 400.3,404.9 398.6,411.0 C396.9,417.1 398.4,413.8 395.0,420.0 C391.6,426.2 393.5,423.5 388.5,429.5 C383.5,435.5 385.8,432.6 380.0,438.0 C374.2,443.4 377.0,441.1 371.0,445.7 C365.0,450.3 367.8,448.3 362.0,451.8 C356.2,455.3 358.5,454.4 353.5,456.2 C348.5,458.0 350.6,457.8 347.0,457.2 C343.4,456.6 344.9,457.4 342.6,454.5 C340.3,451.6 342.1,451.9 340.2,448.5 C338.3,445.1 339.1,444.4 337.0,444.4 C334.9,444.4 335.7,445.1 333.8,448.5 C331.9,451.9 333.7,451.6 331.4,454.5 C329.1,457.4 330.6,456.6 327.0,457.2 C323.4,457.8 325.5,458.0 320.5,456.2 C315.5,454.4 317.8,455.3 312.0,451.8 C306.2,448.3 309.0,450.3 303.0,445.7 C297.0,441.1 299.8,443.4 294.0,438.0 C288.2,432.6 290.5,435.5 285.5,429.5 C280.5,423.5 282.4,426.2 279.0,420.0 C275.6,413.8 277.1,417.1 275.4,411.0 C273.7,404.9 274.0,408.5 273.8,401.8 C273.6,395.1 273.3,397.6 274.8,391.0 C276.3,384.4 275.5,387.3 278.2,382.0 C280.9,376.7 278.9,380.2 283.0,375.0 C287.1,369.8 284.7,372.5 290.6,366.4 C296.5,360.3 293.8,361.8 300.8,356.6 C307.8,351.4 304.4,353.5 311.5,350.8 C318.6,348.1 316.4,348.9 322.0,348.6 C327.6,348.3 324.8,347.8 328.2,349.8 C331.6,351.8 330.6,350.4 332.1,354.5 C333.6,358.6 332.1,356.8 332.6,362.0 C333.1,367.2 332.1,366.5 333.6,370.2 C335.1,373.9 334.7,373.0 337.0,373.0 Z" fill="#f6cdc6" stroke="#ef9f97" stroke-width="0.8" transform="translate(337,403) scale(0.945,0.937) translate(-337,-403.3)"/>
<ellipse cx="349.2" cy="361.2" rx="4.0" ry="11.2" fill="#ee9c93" transform="rotate(6 349.2 361.2)"/>
<ellipse cx="324.8" cy="361.2" rx="4.0" ry="11.2" fill="#ee9c93" transform="rotate(-6 324.8 361.2)"/>
<ellipse cx="365.8" cy="370" rx="4.6" ry="10.2" fill="#ee9c93" transform="rotate(30 365.8 370)"/>
<ellipse cx="308.2" cy="370" rx="4.6" ry="10.2" fill="#ee9c93" transform="rotate(-30 308.2 370)"/>
<ellipse cx="382.2" cy="384.8" rx="8.3" ry="12.8" fill="#ee9c93" transform="rotate(-50 382.2 384.8)"/>
<ellipse cx="291.8" cy="384.8" rx="8.3" ry="12.8" fill="#ee9c93" transform="rotate(50 291.8 384.8)"/>
<ellipse cx="372.3" cy="403.8" rx="4.7" ry="3.3" fill="#ee9c93" transform="rotate(0 372.3 403.8)"/>
<ellipse cx="301.7" cy="403.8" rx="4.7" ry="3.3" fill="#ee9c93" transform="rotate(0 301.7 403.8)"/>
<ellipse cx="382.0" cy="417.8" rx="3.9" ry="7.7" fill="#ee9c93" transform="rotate(30 382.0 417.8)"/>
<ellipse cx="292.0" cy="417.8" rx="3.9" ry="7.7" fill="#ee9c93" transform="rotate(-30 292.0 417.8)"/>
<path d="M341.0,428 C346.0,423 352.0,421.500 357.0,422 L355.5,425 L361.0,425.500 L359.5,428.500 L366.0,430 C369.0,436 365.0,444 357.0,448.500 C350.0,451.500 344.0,448 342.0,441 C340.5,436 340.0,432 341.0,428 Z" fill="#ee9c93"/>
<path d="M333.0,428 C328.0,423 322.0,421.500 317.0,422 L318.5,425 L313.0,425.500 L314.5,428.500 L308.0,430 C305.0,436 309.0,444 317.0,448.500 C324.0,451.500 330.0,448 332.0,441 C333.5,436 334.0,432 333.0,428 Z" fill="#ee9c93"/>
<path d="M319.5,396 C319.5,386 327,380 337,380 C347,380 354.5,386 354.5,396 C354.5,400.5 348,402.5 337,402.5 C326,402.5 319.5,400.500 319.5,396 Z" fill="#efb1a8"/>
<ellipse cx="345.5" cy="386" rx="3.4" ry="2.4" fill="#e99e95" opacity="0.7"/>
<ellipse cx="348.5" cy="394.5" rx="3.2" ry="3.4" fill="#e99e95" opacity="0.7"/>
<ellipse cx="342.0" cy="398.5" rx="2.8" ry="1.8" fill="#e99e95" opacity="0.7"/>
<ellipse cx="328.5" cy="386" rx="3.4" ry="2.4" fill="#e99e95" opacity="0.7"/>
<ellipse cx="325.5" cy="394.5" rx="3.2" ry="3.4" fill="#e99e95" opacity="0.7"/>
<ellipse cx="332.0" cy="398.5" rx="2.8" ry="1.8" fill="#e99e95" opacity="0.7"/>
<ellipse cx="337" cy="390.4" rx="2.3" ry="1.5" fill="#fff"/>
<path d="M341,407.5 L346,404.5 M340,412.5 L345,410" stroke="#ee9c93" stroke-width="2.2" stroke-linecap="round" fill="none"/>
<path d="M359,406 c2,1.5 3,1 4,3 c2,1.5 3,1 4,3 c2,1.5 3,1 4,3" stroke="#ef9f97" stroke-width="0.8" fill="none"/>
<path d="M352,413.5 c2,1.5 3,1 4,3 c2,1.5 3,1 4,3 c2,1.5 3,1 4,3" stroke="#ef9f97" stroke-width="0.8" fill="none"/>
<path d="M337,417 L350,427 M337,421 L347,429" stroke="#ef9f97" stroke-width="0.8" fill="none"/>
<path d="M333,407.5 L328,404.5 M334,412.5 L329,410" stroke="#ee9c93" stroke-width="2.2" stroke-linecap="round" fill="none"/>
<path d="M315,406 c-2,1.5 -3,1 -4,3 c-2,1.5 -3,1 -4,3 c-2,1.5 -3,1 -4,3" stroke="#ef9f97" stroke-width="0.8" fill="none"/>
<path d="M322,413.5 c-2,1.5 -3,1 -4,3 c-2,1.5 -3,1 -4,3 c-2,1.5 -3,1 -4,3" stroke="#ef9f97" stroke-width="0.8" fill="none"/>
<path d="M337,417 L324,427 M337,421 L327,429" stroke="#ef9f97" stroke-width="0.8" fill="none"/>
</g>
<path d="M322.7,395.8 C308,407 293,425 284,444 C276,462 274.5,480 279.5,495.5" fill="none" stroke="#7c7c80" stroke-width="1.5"/>
<circle cx="322.7" cy="395.8" r="3.2" fill="#7c7c80"/>
<path d="M278.7,504.5 C277.6,500.5 280,498.2 283,498.4 C285.2,498.500 286.8,499.8 287.5,501.2" fill="none" stroke="#7c7c80" stroke-width="1.2" stroke-linecap="round"/>
<g id="spleen">
<path d="M430.5,472.3 C437,470 446,470.3 455,471.5 C468,473.3 484,478 498,484 C510,489 521,497 526,508 C530,518 529.5,534 527.5,548 C525.5,563 521,581 514,596 C507,611 495,625 481,634.5 C469,642.5 455,648.5 443,649.3 C433,649.8 427,643 425.5,633 C424,623 424.3,612 425.5,603 C426.5,595 430,589 428.5,583.500 C427,578 420.5,573 419.5,565 C418.8,558 423,552 422,546 C421,540 414.5,534.500 414,526.500 C413.7,520 417.500,515 416.8,509 C416,503 412,498 413,490.500 C414.500,481 422,475 430.5,472.3 Z" fill="#d8706a"/>
<clipPath id="cpSpl"><path d="M430.5,472.3 C437,470 446,470.3 455,471.5 C468,473.3 484,478 498,484 C510,489 521,497 526,508 C530,518 529.5,534 527.5,548 C525.5,563 521,581 514,596 C507,611 495,625 481,634.5 C469,642.5 455,648.5 443,649.3 C433,649.8 427,643 425.5,633 C424,623 424.3,612 425.5,603 C426.5,595 430,589 428.5,583.500 C427,578 420.5,573 419.5,565 C418.8,558 423,552 422,546 C421,540 414.5,534.500 414,526.500 C413.7,520 417.500,515 416.8,509 C416,503 412,498 413,490.500 C414.500,481 422,475 430.5,472.3 Z"/></clipPath>
<path d="M462,468 C480,480 500,492 512,510 C520,524 518,548 515,566 C511,588 500,606 486,620 C470,634 452,641 432,643 L440,654 L500,640 L535,590 L535,500 L505,470 Z" fill="#c75e57" clip-path="url(#cpSpl)"/>
<path d="M414.5,509 C420,513 428,514 436,512 M414.5,528 C419,534 427,537 436,536 M420,566 C425,571 432,573 440,572 M425.500,604 C430,600 436,597 443,596" fill="none" stroke="#c75e57" stroke-width="1.6" stroke-linecap="round" opacity="0.8"/>
<path d="M419.5,487 C421.500,483.500 425,481.500 429.500,481 M417.800,527 C417.500,523 418,519 419.500,516 M423,565 C427,563.500 432,562 437,561" fill="none" stroke="#ee9f97" stroke-width="2.2" stroke-linecap="round"/>
</g>
<path d="M284.2,511 C305,519 335,521.500 364,517 C392,512.500 420,503 441.5,495.3" fill="none" stroke="#7c7c80" stroke-width="1.5"/>
<circle cx="284.2" cy="511" r="3.2" fill="#7c7c80"/>
<path d="M439.5,492 L442.8,495 L441.3,498.6" fill="none" stroke="#7c7c80" stroke-width="1.4" stroke-linecap="round" stroke-linejoin="round"/>
<circle cx="455.0" cy="482.4" r="2.1" fill="#ddc9ea"/>
<circle cx="474.2" cy="486.4" r="2.1" fill="#ddc9ea"/>
<circle cx="442.6" cy="491.6" r="2.1" fill="#ddc9ea"/>
<circle cx="452.0" cy="491.6" r="2.1" fill="#ddc9ea"/>
<circle cx="463.8" cy="492.6" r="2.1" fill="#ddc9ea"/>
<circle cx="455.7" cy="498.0" r="2.1" fill="#ddc9ea"/>
<circle cx="467.5" cy="501.0" r="2.1" fill="#ddc9ea"/>
<circle cx="448.4" cy="503.2" r="2.1" fill="#ddc9ea"/>
<circle cx="459.6" cy="507.8" r="2.1" fill="#ddc9ea"/>
<path d="M471.2,513.6 L475.6,512.2 L477.200,507.500 M475.6,512.2 L478.8,515.2" fill="none" stroke="#f7dcae" stroke-width="1.6" stroke-linecap="round"/>
<circle cx="492.9" cy="526.3" r="18.3" fill="#b7d3ef"/><circle cx="492.9" cy="526.3" r="16.4" fill="none" stroke="#e9f2fb" stroke-width="0.9"/>
<circle cx="491.4" cy="526.6" r="10.9" fill="#6c8bc8"/><circle cx="491.4" cy="526.6" r="11.3" fill="none" stroke="#e9f2fb" stroke-width="0.8"/>
<circle cx="492.5" cy="546.9" r="2.3" fill="#f6d352"/>
<circle cx="503.9" cy="544.8" r="2.3" fill="#f6d352"/>
<circle cx="488.7" cy="556.2" r="2.3" fill="#f6d352"/>
<circle cx="500.2" cy="553.1" r="2.3" fill="#f6d352"/>
<circle cx="514.3" cy="552.5" r="2.3" fill="#f6d352"/>
<circle cx="507.0" cy="557.0" r="2.3" fill="#f6d352"/>
<circle cx="496.0" cy="561.8" r="2.3" fill="#f6d352"/>
<circle cx="508.5" cy="566.4" r="2.3" fill="#f6d352"/>
<circle cx="490.4" cy="572.8" r="2.3" fill="#f6d352"/>
<path d="M484.6,574.8 C484.6,578.3 486.500,579.8 487.500,580 C489.500,579.8 491.500,578.500 491.6,576.2" fill="none" stroke="#5aa99a" stroke-width="1.5" stroke-linecap="round"/>
<path d="M487.5,580 L487.200,582.8" fill="none" stroke="#5aa99a" stroke-width="1.4" stroke-linecap="round"/>
<circle cx="461.0" cy="613.5" r="2.3" fill="#d2ead9"/>
<circle cx="473.9" cy="611.4" r="2.3" fill="#d2ead9"/>
<circle cx="467.0" cy="620.6" r="2.3" fill="#d2ead9"/>
<circle cx="475.2" cy="620.6" r="2.3" fill="#d2ead9"/>
<circle cx="484.8" cy="622.3" r="2.3" fill="#d2ead9"/>
<circle cx="463.0" cy="628.3" r="2.3" fill="#d2ead9"/>
<circle cx="475.8" cy="629.1" r="2.3" fill="#d2ead9"/>
<polygon points="499.5,596.8 497.9,599.3 498.8,602.3 496.6,604.2 496.3,607.2 493.5,608.3 492.0,610.5 489.2,610.9 487.5,613.8 484.5,612.7 482.0,614.6 479.6,612.1 476.6,613.3 474.9,610.7 471.7,610.9 470.7,608.1 468.3,606.7 468.1,603.9 465.7,602.1 465.9,599.4 464.3,596.8 466.6,594.4 465.2,591.3 468.2,589.7 467.8,586.5 471.0,585.8 472.1,583.1 474.6,582.3 476.7,580.5 479.6,581.4 482.0,578.9 484.5,580.7 487.3,580.5 489.4,582.2 492.3,582.7 493.4,585.4 495.8,586.7 496.6,589.4 498.7,591.4 498.2,594.2" fill="#b2cf8c" stroke="#b2cf8c" stroke-width="1.2" stroke-linejoin="round"/>
<circle cx="481.8" cy="596.3" r="7" fill="#80a668"/>
<circle cx="472.5" cy="589.5" r="0.75" fill="#7a9f63"/>
<circle cx="477.0" cy="585.8" r="0.75" fill="#7a9f63"/>
<circle cx="485.5" cy="586.0" r="0.75" fill="#7a9f63"/>
<circle cx="490.5" cy="591.5" r="0.75" fill="#7a9f63"/>
<circle cx="492.0" cy="599.5" r="0.75" fill="#7a9f63"/>
<circle cx="488.5" cy="605.5" r="0.75" fill="#7a9f63"/>
<circle cx="481.0" cy="607.5" r="0.75" fill="#7a9f63"/>
<circle cx="474.5" cy="604.0" r="0.75" fill="#7a9f63"/>
<circle cx="471.5" cy="597.0" r="0.75" fill="#7a9f63"/>
<circle cx="479.0" cy="602.5" r="0.75" fill="#7a9f63"/>
<circle cx="486.0" cy="601.5" r="0.75" fill="#7a9f63"/>
<path d="M504,594.7 L570.3,594.7" fill="none" stroke="#84878d" stroke-width="1.15" marker-end="url(#ah)"/>
<circle cx="529.9" cy="426.9" r="3.7" fill="#f7d263"/>
<circle cx="558.3" cy="432.2" r="3.7" fill="#f7d263"/>
<circle cx="512.2" cy="440.4" r="3.7" fill="#f7d263"/>
<circle cx="524.9" cy="440.0" r="3.7" fill="#f7d263"/>
<circle cx="543.2" cy="441.9" r="3.7" fill="#f7d263"/>
<circle cx="531.2" cy="450.2" r="3.7" fill="#f7d263"/>
<circle cx="548.3" cy="454.6" r="3.7" fill="#f7d263"/>
<circle cx="520.4" cy="458.0" r="3.7" fill="#f7d263"/>
<circle cx="536.0" cy="463.0" r="3.7" fill="#f7d263"/>
<path d="M567,427.8 C573.5,430 575.5,437 572.5,441.500 C570.5,444.500 567,445.6 563.6,445" fill="none" stroke="#8bcba4" stroke-width="3.4" stroke-linecap="round"/>
<path d="M574.5,438.6 L590.5,442.8" fill="none" stroke="#4aa47b" stroke-width="3.2" stroke-linecap="round"/>
<text x="297.8" y="379.0" font-size="13.3" text-anchor="start" fill="#222" textLength="26.8" lengthAdjust="spacingAndGlyphs">NTS</text>
<text x="287.4" y="395.8" font-size="13.3" text-anchor="start" fill="#222" textLength="30.6" lengthAdjust="spacingAndGlyphs">DMN</text>
<text x="394.6" y="377.1" font-size="13.3" text-anchor="start" fill="#222" textLength="61.8" lengthAdjust="spacingAndGlyphs">Brainstem</text>
<text x="293.1" y="435.0" font-size="13.3" text-anchor="start" fill="#222" textLength="87.2" lengthAdjust="spacingAndGlyphs">Efferent vagus</text>
<text x="319.6" y="450.8" font-size="13.3" text-anchor="start" fill="#222" textLength="34.0" lengthAdjust="spacingAndGlyphs">nerve</text>
<text x="289.8" y="499.0" font-size="13.3" text-anchor="start" fill="#222" textLength="93.1" lengthAdjust="spacingAndGlyphs">Celiac ganglion</text>
<text x="303.1" y="539.1" font-size="13.3" text-anchor="start" fill="#222" textLength="80.5" lengthAdjust="spacingAndGlyphs">Spleen nerve</text>
<text x="465.9" y="481.8" font-size="13.3" text-anchor="start" fill="#222" textLength="19.5" lengthAdjust="spacingAndGlyphs">NE</text>
<text x="482.1" y="501.6" font-size="13.3" fill="#222" textLength="32.8" lengthAdjust="spacingAndGlyphs">β<tspan font-size="9.5" dy="3">2</tspan><tspan dy="-3">AR</tspan></text>
<text x="430.6" y="534.2" font-size="13.3" text-anchor="start" fill="#222" textLength="38.2" lengthAdjust="spacingAndGlyphs">T cells</text>
<text x="514.3" y="563.9" font-size="13.3" text-anchor="start" fill="#222" textLength="23.4" lengthAdjust="spacingAndGlyphs">Ach</text>
<text x="497.1" y="583.6" font-size="13.3" text-anchor="start" fill="#222" textLength="56.9" lengthAdjust="spacingAndGlyphs">α7nAchR</text>
<text x="528.6" y="481.8" font-size="13.3" text-anchor="start" fill="#222" textLength="24.3" lengthAdjust="spacingAndGlyphs">Ach</text>
<text x="383.7" y="590.0" font-size="13.3" text-anchor="start" fill="#222" textLength="82.0" lengthAdjust="spacingAndGlyphs">Macrophages</text>
<text x="358.0" y="616.0" font-size="13.3" text-anchor="start" fill="#222" textLength="99.6" lengthAdjust="spacingAndGlyphs">Proinflammatory</text>
<text x="379.0" y="633.2" font-size="13.3" text-anchor="start" fill="#222" textLength="57.2" lengthAdjust="spacingAndGlyphs">cytokines</text>
<text x="488.3" y="365.4" font-size="13.3" text-anchor="start" fill="#222" textLength="76.3" lengthAdjust="spacingAndGlyphs">IL-6、TNF-α</text>
<text x="495.9" y="395.4" font-size="13.3" text-anchor="start" fill="#222" textLength="76.3" lengthAdjust="spacingAndGlyphs">IL-1β、IL-18</text>
<path d="M924.8,441 C927,420 921,396 903,380 C880,361 840,352 790,350.5 C730,349 660,352 568.3,364" fill="none" stroke="#84878d" stroke-width="1.0"/>
<path d="M568.7,367.6 L567.9,360.4" fill="none" stroke="#84878d" stroke-width="1.0"/>
<path d="M703.5,373.8 C660,374.5 620,380 576.5,390.6" fill="none" stroke="#84878d" stroke-width="1.0"/>
<path d="M577.4,394.1 L575.6,387.1" fill="none" stroke="#84878d" stroke-width="1.0"/>
<polygon points="728.0,354.9 735.0,362.6 745.2,360.1 741.9,370.1 749.2,377.7 739.0,379.9 736.0,389.9 729.0,382.2 718.8,384.7 722.1,374.7 714.8,367.1 725.0,364.9" fill="#d6e9e0" stroke="#5e9d8c" stroke-width="1"/>
<path d="M780,371.7 L754.5,371.7" fill="none" stroke="#84878d" stroke-width="1.0"/>
<path d="M754.5,375.3 L754.5,368.1" fill="none" stroke="#84878d" stroke-width="1.0"/>
<text x="635.5" y="395.9" font-size="13.3" text-anchor="start" fill="#222" textLength="89.0" lengthAdjust="spacingAndGlyphs">Inflammasome</text>
<text x="756.1" y="400.7" font-size="13.3" text-anchor="start" fill="#222" textLength="28.7" lengthAdjust="spacingAndGlyphs">ROS</text>
<circle cx="801.9" cy="367.4" r="2.8" fill="#a3cdd2"/>
<circle cx="823.7" cy="371.6" r="2.8" fill="#a3cdd2"/>
<circle cx="788.4" cy="377.9" r="2.8" fill="#a3cdd2"/>
<circle cx="798.1" cy="377.9" r="2.8" fill="#a3cdd2"/>
<circle cx="812.2" cy="378.8" r="2.8" fill="#a3cdd2"/>
<circle cx="802.7" cy="385.5" r="2.8" fill="#a3cdd2"/>
<circle cx="816.0" cy="388.9" r="2.8" fill="#a3cdd2"/>
<circle cx="794.7" cy="391.6" r="2.8" fill="#a3cdd2"/>
<circle cx="806.7" cy="395.9" r="2.8" fill="#a3cdd2"/>
<g transform="rotate(30 843.5 388.3)">
<path d="M833,371 C833,364.500 838,360.800 844,360.800 C851,360.800 856.500,366 856.500,373 L856,402 C856,410 851.500,415.500 845,415.500 C838.500,415.500 834.500,411 834.800,404 C835,397 837.500,393 837.300,387.500 C837,382 833,377.500 833,371 Z" fill="#cde1da" stroke="#bdd6cd" stroke-width="0.7"/>
<path d="M835.600,371 C835.600,366.300 839.500,363.400 844,363.400 C849.500,363.400 853.800,367.500 853.800,373 L853.300,401.500 C853.300,408 849.800,412.800 845,412.800 C840,412.800 837.300,409.500 837.500,404 C837.700,397.500 840.200,393.500 840,387.500 C839.700,381.500 835.600,377 835.600,371 Z" fill="#a5c3b7"/>
<path d="M854,368.5 H844.500" stroke="#d3e5de" stroke-width="2.3" stroke-linecap="round"/>
<path d="M854,375.5 H844.500" stroke="#d3e5de" stroke-width="2.3" stroke-linecap="round"/>
<path d="M854,382.5 H844.500" stroke="#d3e5de" stroke-width="2.3" stroke-linecap="round"/>
<path d="M854,389.5 H844.500" stroke="#d3e5de" stroke-width="2.3" stroke-linecap="round"/>
<path d="M854,396.5 H844.500" stroke="#d3e5de" stroke-width="2.3" stroke-linecap="round"/>
<path d="M854,403.5 H844.500" stroke="#d3e5de" stroke-width="2.3" stroke-linecap="round"/>
<path d="M837.800,371 C838,376 841.800,381 842.200,387.500 C842.500,394 840,398 839.800,404 C839.700,407 840.500,409.500 842,411" fill="none" stroke="#86a99b" stroke-width="2.6" stroke-linecap="round"/>
<path d="M841,372 H849.500" stroke="#86a99b" stroke-width="2.6" stroke-linecap="round"/>
<path d="M841,379 H849.500" stroke="#86a99b" stroke-width="2.6" stroke-linecap="round"/>
<path d="M841,386 H849.500" stroke="#86a99b" stroke-width="2.6" stroke-linecap="round"/>
<path d="M841,393 H849.500" stroke="#86a99b" stroke-width="2.6" stroke-linecap="round"/>
<path d="M841,400 H849.500" stroke="#86a99b" stroke-width="2.6" stroke-linecap="round"/>
<path d="M841,407 H849.500" stroke="#86a99b" stroke-width="2.6" stroke-linecap="round"/>
</g>
<path d="M923.8,450 C915,432 900,416 884,406.4 C874,400 865,395 856.4,391.2" fill="none" stroke="#84878d" stroke-width="1.0"/>
<path d="M854.8,394.4 L858.0,388.0" fill="none" stroke="#84878d" stroke-width="1.0"/>
<path d="M602.4,432.8 C660,416 720,409 760,409.3 C800,409.8 830,415 855.3,423.5" fill="none" stroke="#84878d" stroke-width="1.15" marker-end="url(#ah)"/>
<polyline points="859.3,437.2 859.6,437.1 859.9,436.9 860.3,436.5 860.6,436.0 860.9,435.4 861.2,434.7 861.6,433.9 861.9,433.0 862.2,432.1 862.5,431.1 862.9,430.1 863.2,429.2 863.5,428.3 863.8,427.5 864.2,426.8 864.5,426.2 864.8,425.7 865.1,425.3 865.5,425.1 865.8,425.0 866.1,425.1 866.4,425.3 866.8,425.7 867.1,426.2 867.4,426.8 867.7,427.5 868.1,428.3 868.4,429.2 868.7,430.1 869.0,431.1 869.3,432.1 869.7,433.0 870.0,433.9 870.3,434.7 870.6,435.4 871.0,436.0 871.3,436.5 871.6,436.9 871.9,437.1 872.3,437.2 872.6,437.1 872.9,436.9 873.2,436.5 873.6,436.0 873.9,435.4 874.2,434.7 874.5,433.9 874.9,433.0 875.2,432.1 875.5,431.1 875.8,430.1 876.2,429.2 876.5,428.3 876.8,427.5 877.1,426.8 877.5,426.2 877.8,425.7 878.1,425.3 878.4,425.1 878.8,425.0 879.1,425.1 879.4,425.3 879.7,425.7 880.0,426.2 880.4,426.8 880.7,427.5 881.0,428.3 881.3,429.2 881.7,430.1 882.0,431.1 882.3,432.1 882.6,433.0 883.0,433.9 883.3,434.7 883.6,435.4 883.9,436.0 884.3,436.5 884.6,436.9 884.9,437.1 885.2,437.2 885.6,437.1 885.9,436.9 886.2,436.5 886.5,436.0 886.9,435.4 887.2,434.7 887.5,433.9 887.8,433.0 888.2,432.1 888.5,431.1 888.8,430.1 889.1,429.2 889.4,428.3 889.8,427.5 890.1,426.8 890.4,426.2 890.7,425.7 891.1,425.3 891.4,425.1 891.7,425.0 892.0,425.1 892.4,425.3 892.7,425.7 893.0,426.2 893.3,426.8 893.7,427.5 894.0,428.3 894.3,429.2 894.6,430.1 895.0,431.1 895.3,432.1 895.6,433.0 895.9,433.9 896.3,434.7 896.6,435.4 896.9,436.0 897.2,436.5 897.6,436.9 897.9,437.1 898.2,437.2" fill="none" stroke="#b06fc0" stroke-width="2.4" stroke-linecap="round" stroke-linejoin="round"/>
<polyline points="875.4,69.6 875.8,69.5 876.2,69.4 876.5,69.1 876.9,68.8 877.3,68.3 877.7,67.8 878.0,67.3 878.4,66.6 878.8,66.0 879.2,65.3 879.5,64.6 879.9,64.0 880.3,63.3 880.7,62.8 881.0,62.3 881.4,61.8 881.8,61.5 882.2,61.2 882.5,61.1 882.9,61.0 883.3,61.1 883.7,61.2 884.0,61.5 884.4,61.8 884.8,62.3 885.2,62.8 885.5,63.3 885.9,64.0 886.3,64.6 886.7,65.3 887.1,66.0 887.4,66.6 887.8,67.3 888.2,67.8 888.6,68.3 888.9,68.8 889.3,69.1 889.7,69.4 890.1,69.5 890.4,69.6 890.8,69.5 891.2,69.4 891.6,69.1 891.9,68.8 892.3,68.3 892.7,67.8 893.1,67.3 893.4,66.6 893.8,66.0 894.2,65.3 894.6,64.6 894.9,64.0 895.3,63.3 895.7,62.8 896.1,62.3 896.4,61.8 896.8,61.5 897.2,61.2 897.6,61.1 898.0,61.0 898.3,61.1 898.7,61.2 899.1,61.5 899.5,61.8 899.8,62.3 900.2,62.8 900.6,63.3 901.0,64.0 901.3,64.6 901.7,65.3 902.1,66.0 902.5,66.6 902.8,67.3 903.2,67.8 903.6,68.3 904.0,68.8 904.3,69.1 904.7,69.4 905.1,69.5 905.5,69.6 905.8,69.5 906.2,69.4 906.6,69.1 907.0,68.8 907.3,68.3 907.7,67.8 908.1,67.3 908.5,66.6 908.8,66.0 909.2,65.3 909.6,64.6 910.0,64.0 910.4,63.3 910.7,62.8 911.1,62.3 911.5,61.8 911.9,61.5 912.2,61.2 912.6,61.1 913.0,61.0 913.4,61.1 913.7,61.2 914.1,61.5 914.5,61.8 914.9,62.3 915.2,62.8 915.6,63.3 916.0,64.0 916.4,64.6 916.7,65.3 917.1,66.0 917.5,66.6 917.9,67.3 918.2,67.8 918.6,68.3 919.0,68.8 919.4,69.1 919.7,69.4 920.1,69.5 920.5,69.6" fill="none" stroke="#a6b98a" stroke-width="2.5" stroke-linecap="round" stroke-linejoin="round"/>
<polyline points="871.7,105.4 872.0,105.3 872.2,105.2 872.5,104.9 872.7,104.5 873.0,104.1 873.3,103.5 873.5,102.9 873.8,102.2 874.0,101.5 874.3,100.8 874.5,100.1 874.8,99.4 875.1,98.7 875.3,98.1 875.6,97.5 875.8,97.1 876.1,96.7 876.4,96.4 876.6,96.3 876.9,96.2 877.1,96.3 877.4,96.4 877.7,96.7 877.9,97.1 878.2,97.5 878.4,98.1 878.7,98.7 879.0,99.4 879.2,100.1 879.5,100.8 879.7,101.5 880.0,102.2 880.2,102.9 880.5,103.5 880.8,104.1 881.0,104.5 881.3,104.9 881.5,105.2 881.8,105.3 882.1,105.4 882.3,105.3 882.6,105.2 882.8,104.9 883.1,104.5 883.4,104.1 883.6,103.5 883.9,102.9 884.1,102.2 884.4,101.5 884.7,100.8 884.9,100.1 885.2,99.4 885.4,98.7 885.7,98.1 885.9,97.5 886.2,97.1 886.5,96.7 886.7,96.4 887.0,96.3 887.2,96.2 887.5,96.3 887.8,96.4 888.0,96.7 888.3,97.1 888.5,97.5 888.8,98.1 889.1,98.7 889.3,99.4 889.6,100.1 889.8,100.8 890.1,101.5 890.3,102.2 890.6,102.9 890.9,103.5 891.1,104.1 891.4,104.5 891.6,104.9 891.9,105.2 892.2,105.3 892.4,105.4 892.7,105.3 892.9,105.2 893.2,104.9 893.5,104.5 893.7,104.1 894.0,103.5 894.2,102.9 894.5,102.2 894.8,101.5 895.0,100.8 895.3,100.1 895.5,99.4 895.8,98.7 896.0,98.1 896.3,97.5 896.6,97.1 896.8,96.7 897.1,96.4 897.3,96.3 897.6,96.2 897.9,96.3 898.1,96.4 898.4,96.7 898.6,97.1 898.9,97.5 899.2,98.1 899.4,98.7 899.7,99.4 899.9,100.1 900.2,100.8 900.4,101.5 900.7,102.2 901.0,102.9 901.2,103.5 901.5,104.1 901.7,104.5 902.0,104.9 902.3,105.2 902.5,105.3 902.8,105.4 903.0,105.3 903.3,105.2 903.6,104.9 903.8,104.5 904.1,104.1 904.3,103.5 904.6,102.9 904.9,102.2 905.1,101.5 905.4,100.8 905.6,100.1 905.9,99.4 906.1,98.7 906.4,98.1 906.7,97.5 906.9,97.1 907.2,96.7 907.4,96.4 907.7,96.3 908.0,96.2 908.2,96.3 908.5,96.4 908.7,96.7 909.0,97.1 909.3,97.5 909.5,98.1 909.8,98.7 910.0,99.4 910.3,100.1 910.5,100.8 910.8,101.5 911.1,102.2 911.3,102.9 911.6,103.5 911.8,104.1 912.1,104.5 912.4,104.9 912.6,105.2 912.9,105.3 913.1,105.4 913.4,105.3 913.7,105.2 913.9,104.9 914.2,104.5 914.4,104.1 914.7,103.5 915.0,102.9 915.2,102.2 915.5,101.5 915.7,100.8 916.0,100.1 916.2,99.4 916.5,98.7 916.8,98.1 917.0,97.5 917.3,97.1 917.5,96.7 917.8,96.4 918.1,96.3 918.3,96.2 918.6,96.3 918.8,96.4 919.1,96.7 919.4,97.1 919.6,97.5 919.9,98.1 920.1,98.7 920.4,99.4 920.7,100.1 920.9,100.8 921.2,101.5 921.4,102.2 921.7,102.9 921.9,103.5 922.2,104.1 922.5,104.5 922.7,104.9 923.0,105.2 923.2,105.3 923.5,105.4" fill="none" stroke="#93acbb" stroke-width="1.9" stroke-linecap="round" stroke-linejoin="round"/>
<text x="855.2" y="451.0" font-size="11.4" text-anchor="start" fill="#222" textLength="60.7" lengthAdjust="spacingAndGlyphs">miRNA-124</text>
<ellipse cx="789.5" cy="439.6" rx="27.0" ry="21.0" fill="#9fc6e8"/>
<ellipse cx="788.8" cy="438.7" rx="26.0" ry="19.8" fill="#b6d6f0"/>
<text x="769.4" y="444.4" font-size="13.3" text-anchor="start" fill="#222" textLength="40.1" lengthAdjust="spacingAndGlyphs">STAT3</text>
<path d="M855.5,441.1 L821.3,440.2" fill="none" stroke="#84878d" stroke-width="1.15" marker-end="url(#ah)"/>
<path d="M789.4,466.2 C794,476 806,483 821.5,484.6" fill="none" stroke="#84878d" stroke-width="1.15" marker-end="url(#ah)"/>
<circle cx="686.8" cy="447.5" r="9.2" fill="#eec55c"/>
<circle cx="686.4" cy="447.0" r="8.299999999999999" fill="#f7d870"/>
<text x="686.8" y="452.1" font-size="13.3" text-anchor="middle" fill="#222">P</text>
<path d="M687.8,462.2 C688.5,474 694,482 704,486.2" fill="none" stroke="#84878d" stroke-width="1.15" marker-end="url(#ah)"/>
<path d="M601.4,450.2 L639.6,470.6" fill="none" stroke="#84878d" stroke-width="1.15" marker-end="url(#ah)"/>
<ellipse cx="658.2" cy="484.8" rx="23.0" ry="17.3" fill="#9fc8cd"/>
<ellipse cx="657.5" cy="483.9" rx="22.0" ry="16.1" fill="#b5d8d9"/>
<text x="642.8" y="490.7" font-size="13.3" text-anchor="start" fill="#222" textLength="33.2" lengthAdjust="spacingAndGlyphs">JAK2</text>
<path d="M687.4,492.4 L719.7,492.4" fill="none" stroke="#84878d" stroke-width="1.15" marker-end="url(#ah)"/>
<circle cx="771.0" cy="475.0" r="9.2" fill="#eec55c"/>
<circle cx="770.6" cy="474.5" r="8.299999999999999" fill="#f7d870"/>
<text x="771.0" y="479.6" font-size="13.3" text-anchor="middle" fill="#222">P</text>
<ellipse cx="753.9" cy="492.6" rx="22.8" ry="17.5" fill="#9fc8cd"/>
<ellipse cx="753.2" cy="491.7" rx="21.8" ry="16.3" fill="#b5d8d9"/>
<text x="736.5" y="497.7" font-size="13.3" text-anchor="start" fill="#222" textLength="32.6" lengthAdjust="spacingAndGlyphs">JAK2</text>
<path d="M780.4,492.3 L847.3,492.3" fill="none" stroke="#84878d" stroke-width="1.15" marker-end="url(#ah)"/>
<path d="M592.9,458.8 L652.4,517.8" fill="none" stroke="#84878d" stroke-width="1.0"/>
<path d="M654.9,515.3 L649.9,520.3" fill="none" stroke="#84878d" stroke-width="1.0"/>
<ellipse cx="884.0" cy="495.2" rx="27.0" ry="21.0" fill="#9fc6e8"/>
<ellipse cx="883.3" cy="494.3" rx="26.0" ry="19.8" fill="#b6d6f0"/>
<circle cx="901.5" cy="470.4" r="9.2" fill="#eec55c"/>
<circle cx="901.1" cy="469.9" r="8.299999999999999" fill="#f7d870"/>
<text x="901.5" y="475.0" font-size="13.3" text-anchor="middle" fill="#222">P</text>
<ellipse cx="884.0" cy="495.2" rx="27.0" ry="21.0" fill="#9fc6e8"/>
<ellipse cx="883.3" cy="494.3" rx="26.0" ry="19.8" fill="#b6d6f0"/>
<text x="863.4" y="499.8" font-size="13.3" text-anchor="start" fill="#222" textLength="40.5" lengthAdjust="spacingAndGlyphs">STAT3</text>
<rect x="917.5" y="458.0" width="8.5" height="104.3" fill="#b9cbe6"/>
<path d="M916.2,458.8 H921.8" stroke="#a9c8f0" stroke-width="2.3"/><path d="M921.8,458.8 H927.3" stroke="#9da3b3" stroke-width="2.3"/>
<path d="M916.3,461.9 H921.8" stroke="#9da3b3" stroke-width="2.3"/><path d="M921.8,461.9 H927.2" stroke="#a9c8f0" stroke-width="2.3"/>
<path d="M916.7,465.0 H921.8" stroke="#a9c8f0" stroke-width="2.3"/><path d="M921.8,465.0 H926.8" stroke="#9da3b3" stroke-width="2.3"/>
<path d="M917.1,468.1 H921.8" stroke="#9da3b3" stroke-width="2.3"/><path d="M921.8,468.1 H926.4" stroke="#a9c8f0" stroke-width="2.3"/>
<path d="M917.4,471.2 H921.8" stroke="#a9c8f0" stroke-width="2.3"/><path d="M921.8,471.2 H926.1" stroke="#9da3b3" stroke-width="2.3"/>
<path d="M916.9,474.4 H921.8" stroke="#9da3b3" stroke-width="2.3"/><path d="M921.8,474.4 H926.6" stroke="#a9c8f0" stroke-width="2.3"/>
<path d="M916.5,477.5 H921.8" stroke="#a9c8f0" stroke-width="2.3"/><path d="M921.8,477.5 H927.0" stroke="#9da3b3" stroke-width="2.3"/>
<path d="M916.3,480.6 H921.8" stroke="#9da3b3" stroke-width="2.3"/><path d="M921.8,480.6 H927.2" stroke="#a9c8f0" stroke-width="2.3"/>
<path d="M916.2,483.7 H921.8" stroke="#a9c8f0" stroke-width="2.3"/><path d="M921.8,483.7 H927.3" stroke="#9da3b3" stroke-width="2.3"/>
<path d="M916.3,486.8 H921.8" stroke="#9da3b3" stroke-width="2.3"/><path d="M921.8,486.8 H927.2" stroke="#a9c8f0" stroke-width="2.3"/>
<path d="M916.6,489.9 H921.8" stroke="#a9c8f0" stroke-width="2.3"/><path d="M921.8,489.9 H926.9" stroke="#9da3b3" stroke-width="2.3"/>
<path d="M917.0,493.0 H921.8" stroke="#9da3b3" stroke-width="2.3"/><path d="M921.8,493.0 H926.5" stroke="#a9c8f0" stroke-width="2.3"/>
<path d="M917.5,496.1 H921.8" stroke="#a9c8f0" stroke-width="2.3"/><path d="M921.8,496.1 H926.0" stroke="#9da3b3" stroke-width="2.3"/>
<path d="M917.0,499.3 H921.8" stroke="#9da3b3" stroke-width="2.3"/><path d="M921.8,499.3 H926.5" stroke="#a9c8f0" stroke-width="2.3"/>
<path d="M916.6,502.4 H921.8" stroke="#a9c8f0" stroke-width="2.3"/><path d="M921.8,502.4 H926.9" stroke="#9da3b3" stroke-width="2.3"/>
<path d="M916.3,505.5 H921.8" stroke="#9da3b3" stroke-width="2.3"/><path d="M921.8,505.5 H927.2" stroke="#a9c8f0" stroke-width="2.3"/>
<path d="M916.2,508.6 H921.8" stroke="#a9c8f0" stroke-width="2.3"/><path d="M921.8,508.6 H927.3" stroke="#9da3b3" stroke-width="2.3"/>
<path d="M916.3,511.7 H921.8" stroke="#9da3b3" stroke-width="2.3"/><path d="M921.8,511.7 H927.2" stroke="#a9c8f0" stroke-width="2.3"/>
<path d="M916.5,514.8 H921.8" stroke="#a9c8f0" stroke-width="2.3"/><path d="M921.8,514.8 H927.0" stroke="#9da3b3" stroke-width="2.3"/>
<path d="M916.9,517.9 H921.8" stroke="#9da3b3" stroke-width="2.3"/><path d="M921.8,517.9 H926.6" stroke="#a9c8f0" stroke-width="2.3"/>
<path d="M917.4,521.0 H921.8" stroke="#a9c8f0" stroke-width="2.3"/><path d="M921.8,521.0 H926.1" stroke="#9da3b3" stroke-width="2.3"/>
<path d="M917.1,524.2 H921.8" stroke="#9da3b3" stroke-width="2.3"/><path d="M921.8,524.2 H926.4" stroke="#a9c8f0" stroke-width="2.3"/>
<path d="M916.7,527.3 H921.8" stroke="#a9c8f0" stroke-width="2.3"/><path d="M921.8,527.3 H926.8" stroke="#9da3b3" stroke-width="2.3"/>
<path d="M916.3,530.4 H921.8" stroke="#9da3b3" stroke-width="2.3"/><path d="M921.8,530.4 H927.2" stroke="#a9c8f0" stroke-width="2.3"/>
<path d="M916.2,533.5 H921.8" stroke="#a9c8f0" stroke-width="2.3"/><path d="M921.8,533.5 H927.3" stroke="#9da3b3" stroke-width="2.3"/>
<path d="M916.3,536.6 H921.8" stroke="#9da3b3" stroke-width="2.3"/><path d="M921.8,536.6 H927.2" stroke="#a9c8f0" stroke-width="2.3"/>
<path d="M916.5,539.7 H921.8" stroke="#a9c8f0" stroke-width="2.3"/><path d="M921.8,539.7 H927.0" stroke="#9da3b3" stroke-width="2.3"/>
<path d="M916.9,542.8 H921.8" stroke="#9da3b3" stroke-width="2.3"/><path d="M921.8,542.8 H926.6" stroke="#a9c8f0" stroke-width="2.3"/>
<path d="M917.4,545.9 H921.8" stroke="#a9c8f0" stroke-width="2.3"/><path d="M921.8,545.9 H926.1" stroke="#9da3b3" stroke-width="2.3"/>
<path d="M917.2,549.1 H921.8" stroke="#9da3b3" stroke-width="2.3"/><path d="M921.8,549.1 H926.3" stroke="#a9c8f0" stroke-width="2.3"/>
<path d="M916.7,552.2 H921.8" stroke="#a9c8f0" stroke-width="2.3"/><path d="M921.8,552.2 H926.8" stroke="#9da3b3" stroke-width="2.3"/>
<path d="M916.4,555.3 H921.8" stroke="#9da3b3" stroke-width="2.3"/><path d="M921.8,555.3 H927.1" stroke="#a9c8f0" stroke-width="2.3"/>
<path d="M916.2,558.4 H921.8" stroke="#a9c8f0" stroke-width="2.3"/><path d="M921.8,558.4 H927.3" stroke="#9da3b3" stroke-width="2.3"/>
<path d="M916.2,561.5 H921.8" stroke="#9da3b3" stroke-width="2.3"/><path d="M921.8,561.5 H927.3" stroke="#a9c8f0" stroke-width="2.3"/>
<polyline points="926.1,458.0 926.1,458.7 926.0,459.3 926.0,460.0 925.9,460.6 925.8,461.3 925.6,461.9 925.4,462.6 925.2,463.2 925.0,463.9 924.8,464.5 924.5,465.2 924.2,465.8 923.9,466.5 923.6,467.1 923.3,467.8 923.0,468.4 922.6,469.1 922.3,469.7 921.9,470.4 921.6,471.0 921.2,471.7 920.9,472.3 920.5,473.0 920.2,473.6 919.9,474.3 919.6,474.9 919.3,475.6 919.0,476.3 918.7,476.9 918.5,477.6 918.3,478.2 918.1,478.9 917.9,479.5 917.7,480.2 917.6,480.8 917.5,481.5 917.5,482.1 917.4,482.8 917.4,483.4 917.4,484.1 917.5,484.7 917.5,485.4 917.6,486.0 917.8,486.7 917.9,487.3 918.1,488.0 918.3,488.6 918.5,489.3 918.7,489.9 919.0,490.6 919.3,491.2 919.6,491.9 919.9,492.5 920.2,493.2 920.6,493.9 920.9,494.5 921.2,495.2 921.6,495.8 921.9,496.5 922.3,497.1 922.6,497.8 923.0,498.4 923.3,499.1 923.6,499.7 923.9,500.4 924.2,501.0 924.5,501.7 924.8,502.3 925.0,503.0 925.2,503.6 925.4,504.3 925.6,504.9 925.8,505.6 925.9,506.2 926.0,506.9 926.0,507.5 926.1,508.2 926.1,508.8 926.1,509.5 926.0,510.1 926.0,510.8 925.9,511.5 925.7,512.1 925.6,512.8 925.4,513.4 925.2,514.1 925.0,514.7 924.7,515.4 924.5,516.0 924.2,516.7 923.9,517.3 923.6,518.0 923.3,518.6 922.9,519.3 922.6,519.9 922.2,520.6 921.9,521.2 921.5,521.9 921.2,522.5 920.8,523.2 920.5,523.8 920.2,524.5 919.9,525.1 919.5,525.8 919.3,526.4 919.0,527.1 918.7,527.8 918.5,528.4 918.3,529.1 918.1,529.7 917.9,530.4 917.7,531.0 917.6,531.7 917.5,532.3 917.5,533.0 917.4,533.6 917.4,534.3 917.4,534.9 917.5,535.6 917.5,536.2 917.6,536.9 917.8,537.5 917.9,538.2 918.1,538.8 918.3,539.5 918.5,540.1 918.8,540.8 919.0,541.4 919.3,542.1 919.6,542.7 919.9,543.4 920.2,544.0 920.6,544.7 920.9,545.4 921.3,546.0 921.6,546.7 922.0,547.3 922.3,548.0 922.7,548.6 923.0,549.3 923.3,549.9 923.7,550.6 924.0,551.2 924.3,551.9 924.5,552.5 924.8,553.2 925.0,553.8 925.3,554.5 925.5,555.1 925.6,555.8 925.8,556.4 925.9,557.1 926.0,557.7 926.1,558.4 926.1,559.0 926.1,559.7 926.1,560.3 926.0,561.0 926.0,561.6 925.9,562.3" fill="none" stroke="#85878e" stroke-width="2.7" stroke-linecap="butt"/>
<polyline points="917.4,458.0 917.4,458.7 917.5,459.3 917.5,460.0 917.6,460.6 917.7,461.3 917.9,461.9 918.1,462.6 918.3,463.2 918.5,463.9 918.7,464.5 919.0,465.2 919.3,465.8 919.6,466.5 919.9,467.1 920.2,467.8 920.5,468.4 920.9,469.1 921.2,469.7 921.6,470.4 921.9,471.0 922.3,471.7 922.6,472.3 923.0,473.0 923.3,473.6 923.6,474.3 923.9,474.9 924.2,475.6 924.5,476.3 924.8,476.9 925.0,477.6 925.2,478.2 925.4,478.9 925.6,479.5 925.8,480.2 925.9,480.8 926.0,481.5 926.0,482.1 926.1,482.8 926.1,483.4 926.1,484.1 926.0,484.7 926.0,485.4 925.9,486.0 925.7,486.7 925.6,487.3 925.4,488.0 925.2,488.6 925.0,489.3 924.8,489.9 924.5,490.6 924.2,491.2 923.9,491.9 923.6,492.5 923.3,493.2 922.9,493.9 922.6,494.5 922.3,495.2 921.9,495.8 921.6,496.5 921.2,497.1 920.9,497.8 920.5,498.4 920.2,499.1 919.9,499.7 919.6,500.4 919.3,501.0 919.0,501.7 918.7,502.3 918.5,503.0 918.3,503.6 918.1,504.3 917.9,504.9 917.7,505.6 917.6,506.2 917.5,506.9 917.5,507.5 917.4,508.2 917.4,508.8 917.4,509.5 917.5,510.1 917.5,510.8 917.6,511.5 917.8,512.1 917.9,512.8 918.1,513.4 918.3,514.1 918.5,514.7 918.8,515.4 919.0,516.0 919.3,516.7 919.6,517.3 919.9,518.0 920.2,518.6 920.6,519.3 920.9,519.9 921.3,520.6 921.6,521.2 922.0,521.9 922.3,522.5 922.7,523.2 923.0,523.8 923.3,524.5 923.6,525.1 924.0,525.8 924.2,526.4 924.5,527.1 924.8,527.8 925.0,528.4 925.2,529.1 925.4,529.7 925.6,530.4 925.8,531.0 925.9,531.7 926.0,532.3 926.0,533.0 926.1,533.6 926.1,534.3 926.1,534.9 926.0,535.6 926.0,536.2 925.9,536.9 925.7,537.5 925.6,538.2 925.4,538.8 925.2,539.5 925.0,540.1 924.7,540.8 924.5,541.4 924.2,542.1 923.9,542.7 923.6,543.4 923.3,544.0 922.9,544.7 922.6,545.4 922.2,546.0 921.9,546.7 921.5,547.3 921.2,548.0 920.8,548.6 920.5,549.3 920.2,549.9 919.8,550.6 919.5,551.2 919.2,551.9 919.0,552.5 918.7,553.2 918.5,553.8 918.2,554.5 918.0,555.1 917.9,555.8 917.7,556.4 917.6,557.1 917.5,557.7 917.4,558.4 917.4,559.0 917.4,559.7 917.4,560.3 917.5,561.0 917.5,561.6 917.6,562.3" fill="none" stroke="#86a4de" stroke-width="2.7" stroke-linecap="butt"/>
<ellipse cx="681.6" cy="533.4" rx="20.5" ry="16.9" fill="#cd8fb4"/>
<ellipse cx="680.9" cy="532.5" rx="19.5" ry="15.7" fill="#dba6c4"/>
<text x="670.3" y="538.5" font-size="13.3" text-anchor="start" fill="#222" textLength="27.2" lengthAdjust="spacingAndGlyphs">IκBα</text>
<ellipse cx="713.6" cy="523.4" rx="17.5" ry="17.5" fill="#f0a877"/>
<ellipse cx="712.9" cy="522.5" rx="16.5" ry="16.3" fill="#f7bb8c"/>
<ellipse cx="713.6" cy="548.4" rx="17.5" ry="17.5" fill="#f0c3a4"/>
<ellipse cx="712.9" cy="547.5" rx="16.5" ry="16.3" fill="#f9d8bf"/>
<text x="713.6" y="525.8" font-size="13.3" text-anchor="middle" fill="#222">p50</text>
<text x="713.6" y="552.4" font-size="13.3" text-anchor="middle" fill="#222">p65</text>
<path d="M731.6,536.6 L765.8,536.6" fill="none" stroke="#84878d" stroke-width="1.0"/>
<path d="M765.8,533.0 L765.8,540.2" fill="none" stroke="#84878d" stroke-width="1.0"/>
<ellipse cx="790.4" cy="523.2" rx="17.8" ry="17.8" fill="#f0a877"/>
<ellipse cx="789.7" cy="522.3" rx="16.8" ry="16.6" fill="#f7bb8c"/>
<ellipse cx="790.4" cy="548.6" rx="17.8" ry="17.8" fill="#f0c3a4"/>
<ellipse cx="789.7" cy="547.7" rx="16.8" ry="16.6" fill="#f9d8bf"/>
<text x="790.4" y="525.6" font-size="13.3" text-anchor="middle" fill="#222">p50</text>
<text x="790.4" y="552.6" font-size="13.3" text-anchor="middle" fill="#222">p65</text>
<path d="M817.5,540.8 L858.7,555" fill="none" stroke="#84878d" stroke-width="1.0"/>
<path d="M859.9,551.6 L857.5,558.4" fill="none" stroke="#84878d" stroke-width="1.0"/>
<circle cx="603.0" cy="561.5" r="9.2" fill="#eec55c"/>
<circle cx="602.6" cy="561.0" r="8.299999999999999" fill="#f7d870"/>
<text x="603.0" y="566.1" font-size="13.3" text-anchor="middle" fill="#222">P</text>
<path d="M615.6,566.2 C628,571.5 645,571.5 657.4,559" fill="none" stroke="#84878d" stroke-width="1.15" marker-end="url(#ah)"/>
<ellipse cx="635.2" cy="606.7" rx="22.8" ry="17.7" fill="#c2b0da"/>
<ellipse cx="634.5" cy="605.8" rx="21.8" ry="16.5" fill="#d6c7e6"/>
<text x="624.5" y="611.8" font-size="13.3" text-anchor="start" fill="#222" textLength="22.7" lengthAdjust="spacingAndGlyphs">IKK</text>
<path d="M644.7,586.1 L669.7,552.9" fill="none" stroke="#84878d" stroke-width="1.15" marker-end="url(#ah)"/>
<path d="M712.6,578 L712.6,610.6" fill="none" stroke="#84878d" stroke-width="1.15" marker-end="url(#ah)"/>
<ellipse cx="709.8" cy="636.5" rx="23.0" ry="16.8" fill="#cd8fb4"/>
<ellipse cx="709.1" cy="635.6" rx="22.0" ry="15.6" fill="#dba6c4"/>
<circle cx="729.9" cy="620.1" r="9.2" fill="#eec55c"/>
<circle cx="729.5" cy="619.6" r="8.299999999999999" fill="#f7d870"/>
<text x="729.9" y="624.7" font-size="13.3" text-anchor="middle" fill="#222">P</text>
<text x="696.1" y="642.0" font-size="13.3" text-anchor="start" fill="#222" textLength="27.0" lengthAdjust="spacingAndGlyphs">IκBα</text>
<path d="M738.1,638.7 L762.6,638.7" fill="none" stroke="#84878d" stroke-width="1.15" marker-end="url(#ah)"/>
<polygon points="774.9,628.3 779.1,628.6 782.4,632.5 778.2,632.5" fill="#a987c2" stroke="#a987c2" stroke-width="0.5" stroke-linejoin="round"/>
<polygon points="783.2,629.2 785.3,625.9 788.0,626.5 785.6,628.6" fill="#a987c2" stroke="#a987c2" stroke-width="0.5" stroke-linejoin="round"/>
<polygon points="791.6,631.9 793.3,627.4 797.5,625.1 797.8,626.8 793.9,630.7" fill="#a987c2" stroke="#a987c2" stroke-width="0.5" stroke-linejoin="round"/>
<polygon points="784.7,632.2 788.0,631.0 791.0,633.1 788.0,634.5" fill="#a987c2" stroke="#a987c2" stroke-width="0.5" stroke-linejoin="round"/>
<polygon points="791.6,636.9 794.5,633.4 798.7,631.3 798.4,633.4 793.9,637.5" fill="#a987c2" stroke="#a987c2" stroke-width="0.5" stroke-linejoin="round"/>
<polygon points="795.7,638.1 797.8,636.8 798.4,637.8 796.6,638.7" fill="#a987c2" stroke="#a987c2" stroke-width="0.5" stroke-linejoin="round"/>
<polygon points="776.4,635.1 779.7,635.1 781.5,637.5 778.8,639.0 776.7,637.2" fill="#a987c2" stroke="#a987c2" stroke-width="0.5" stroke-linejoin="round"/>
<polygon points="783.2,636.0 786.5,635.7 785.3,639.6" fill="#a987c2" stroke="#a987c2" stroke-width="0.5" stroke-linejoin="round"/>
<polygon points="789.2,638.4 790.4,638.1 790.1,640.5" fill="#a987c2" stroke="#a987c2" stroke-width="0.5" stroke-linejoin="round"/>
<polygon points="771.7,646.4 776.1,642.9 782.4,640.5 782.7,642.0 777.3,645.5" fill="#a987c2" stroke="#a987c2" stroke-width="0.5" stroke-linejoin="round"/>
<polygon points="782.7,649.7 782.7,646.4 785.9,642.0 786.5,644.0 784.7,649.4" fill="#a987c2" stroke="#a987c2" stroke-width="0.5" stroke-linejoin="round"/>
<polygon points="788.3,642.3 796.3,645.5 788.9,653.2" fill="#a987c2" stroke="#a987c2" stroke-width="0.5" stroke-linejoin="round"/>
<polygon points="792.1,641.7 796.9,641.1 799.3,643.4 795.1,643.2" fill="#a987c2" stroke="#a987c2" stroke-width="0.5" stroke-linejoin="round"/>
<circle cx="795.5" cy="586.5" r="9.2" fill="#eec55c"/>
<circle cx="795.1" cy="586.0" r="8.299999999999999" fill="#f7d870"/>
<text x="795.5" y="591.1" font-size="13.3" text-anchor="middle" fill="#222">P</text>
<path d="M805.6,576.1 C808.5,567 814,559 821.7,553.3" fill="none" stroke="#84878d" stroke-width="1.15" marker-end="url(#ah)"/>
<circle cx="902.8" cy="534.9" r="9.2" fill="#eec55c"/>
<circle cx="902.4" cy="534.4" r="8.299999999999999" fill="#f7d870"/>
<text x="902.8" y="539.5" font-size="13.3" text-anchor="middle" fill="#222">P</text>
<ellipse cx="886.8" cy="550.4" rx="17.7" ry="17.7" fill="#f0a877"/>
<ellipse cx="886.1" cy="549.5" rx="16.7" ry="16.5" fill="#f7bb8c"/>
<ellipse cx="886.8" cy="577.0" rx="17.7" ry="17.7" fill="#f0c3a4"/>
<ellipse cx="886.1" cy="576.1" rx="16.7" ry="16.5" fill="#f9d8bf"/>
<text x="886.8" y="552.8" font-size="13.3" text-anchor="middle" fill="#222">p50</text>
<text x="886.8" y="581.0" font-size="13.3" text-anchor="middle" fill="#222">p65</text>
<circle cx="902.8" cy="534.9" r="9.2" fill="#eec55c"/>
<circle cx="902.4" cy="534.4" r="8.299999999999999" fill="#f7d870"/>
<text x="902.8" y="539.5" font-size="13.3" text-anchor="middle" fill="#222">P</text>
</svg>
</body></html>
